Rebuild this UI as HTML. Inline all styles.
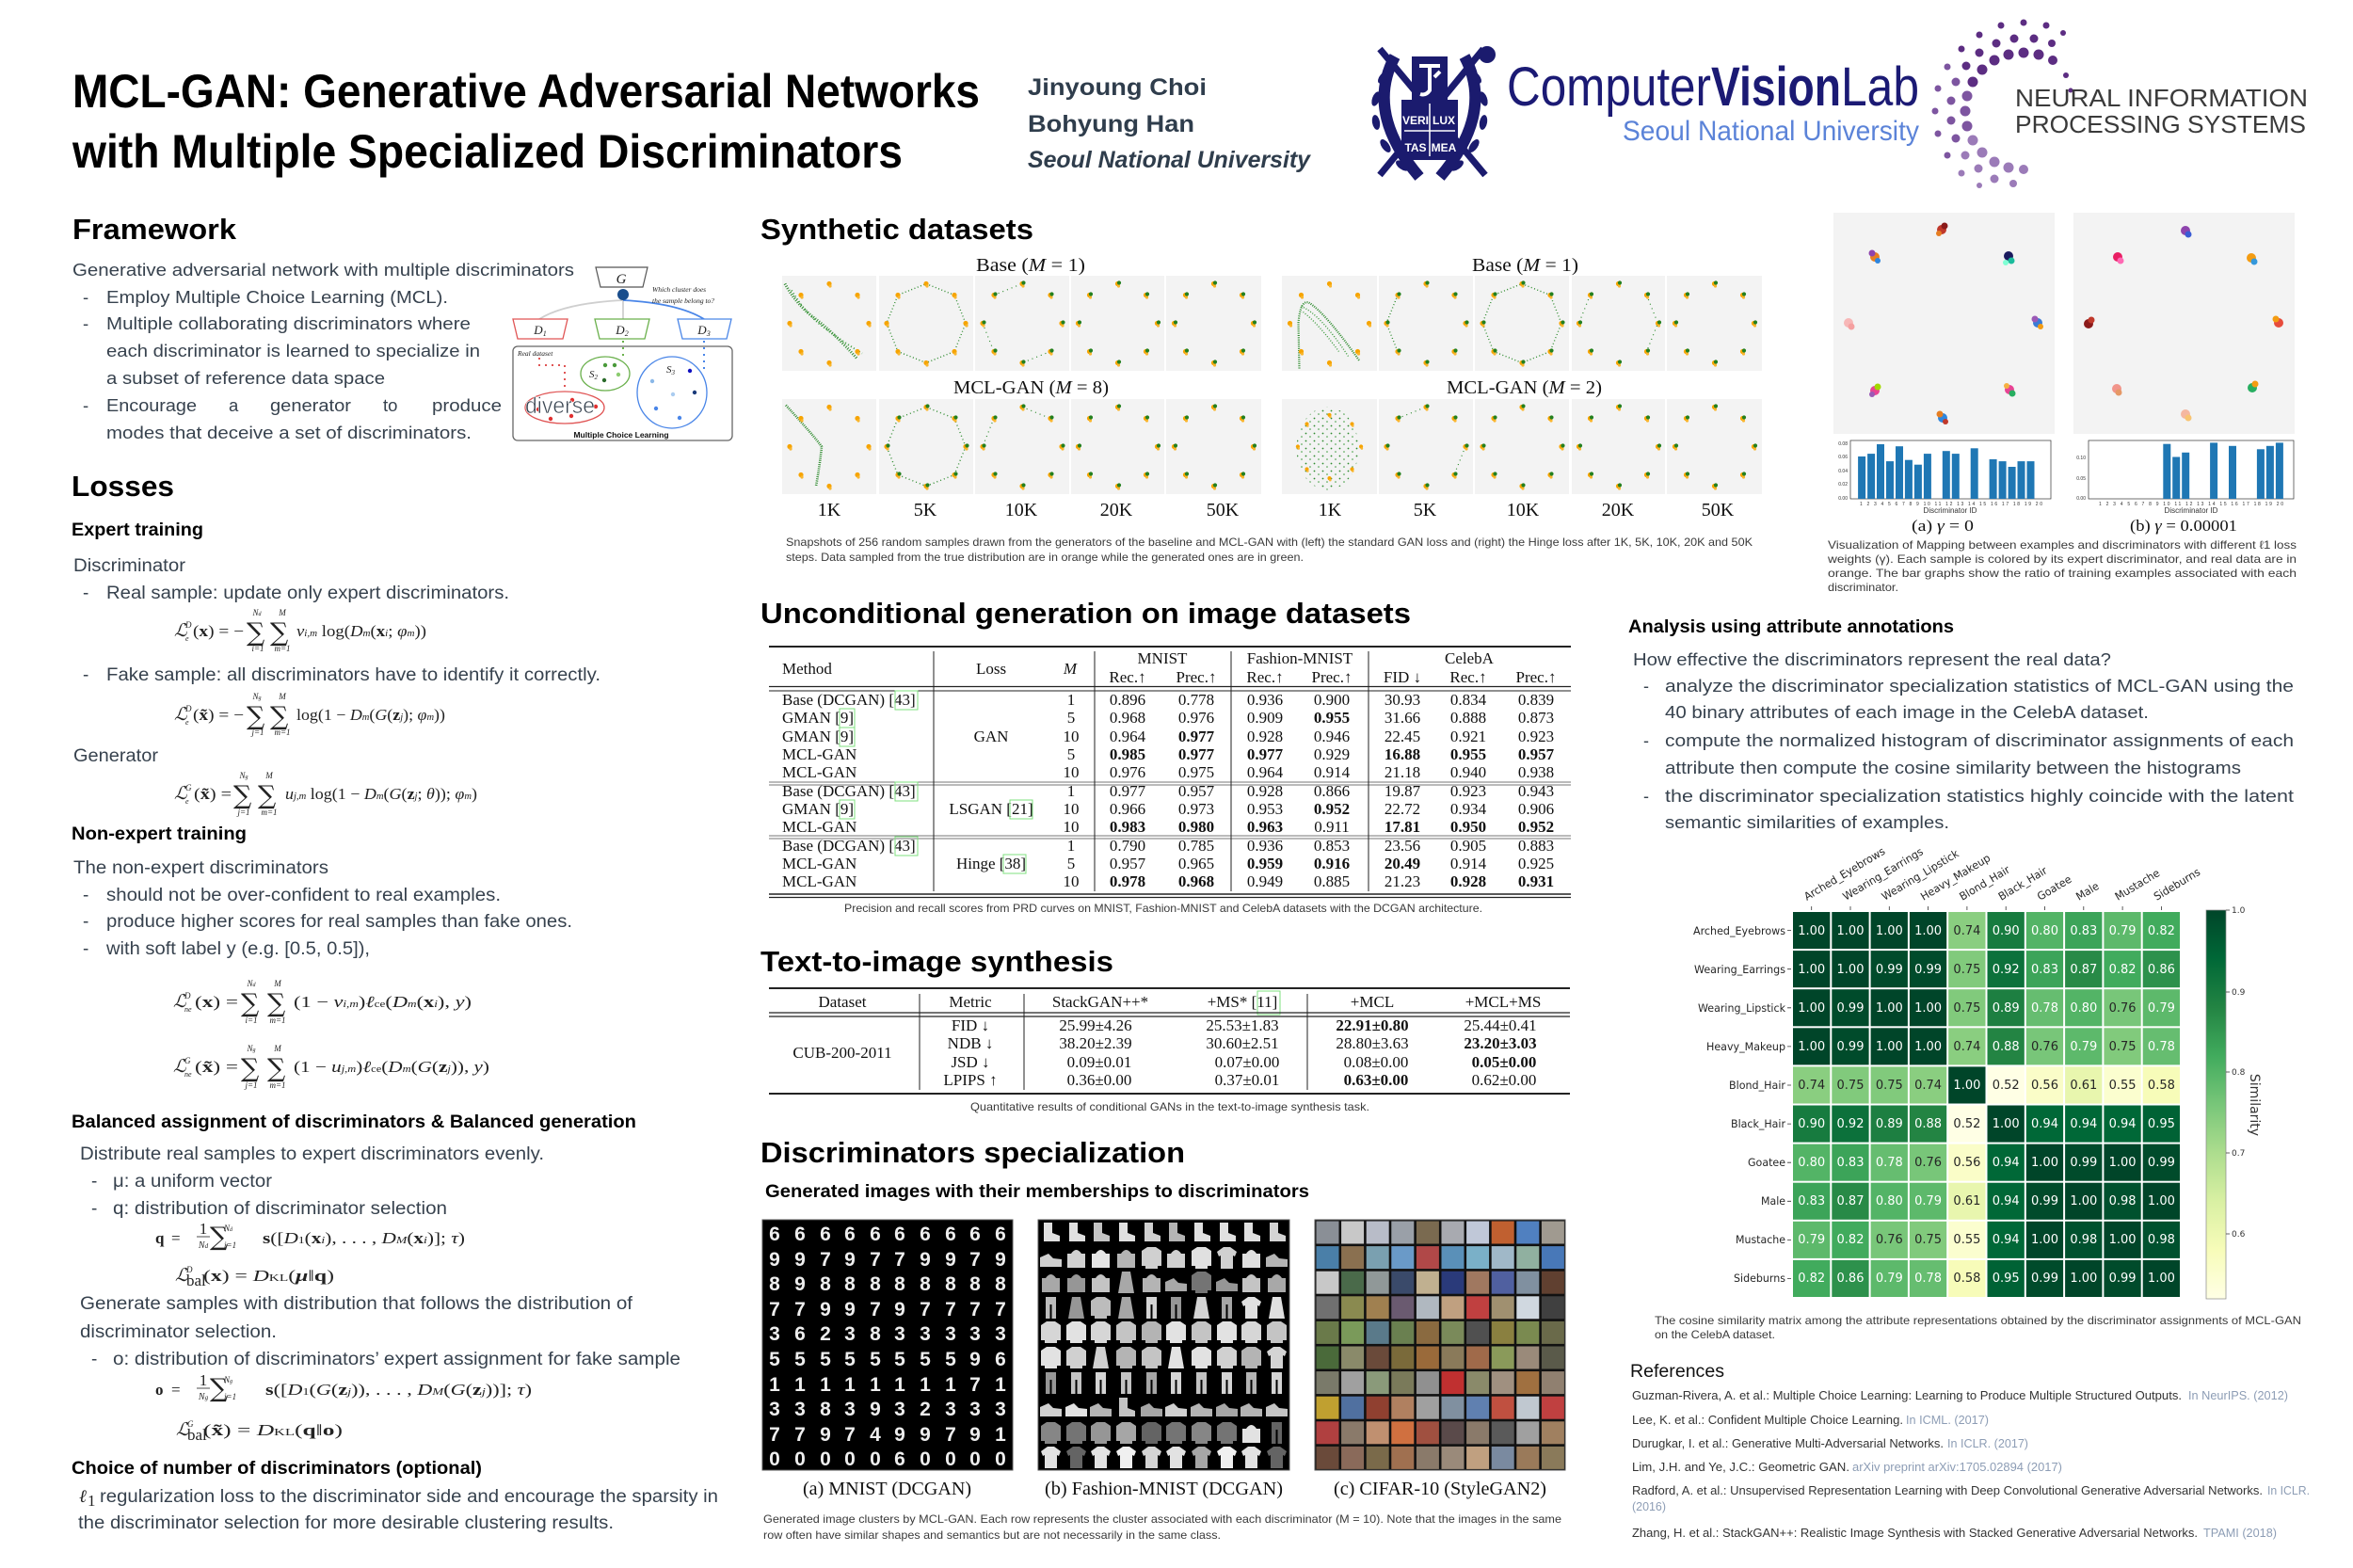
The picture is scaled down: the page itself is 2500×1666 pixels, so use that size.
<!DOCTYPE html>
<html><head><meta charset="utf-8"><style>
html,body{margin:0;padding:0;background:#fff}
svg{display:block;font-family:"Liberation Sans","DejaVu Sans",sans-serif}
.t{fill:#37424e;font-size:19px}
.r{fill:#37424e;font-size:18px}
.h1{font-weight:bold;fill:#000;font-size:31px}
.h2{font-weight:bold;fill:#000;font-size:19px}
.sf{font-family:"Liberation Serif","DejaVu Serif",serif;fill:#111}
.cap{font-size:12px;fill:#3a3a3a}
.f{font-family:"Liberation Serif","DejaVu Serif",serif;fill:#222;font-size:17px}
.fi{font-family:"Liberation Serif","DejaVu Serif",serif;fill:#222;font-style:italic}
.lim{font-family:"Liberation Serif","DejaVu Serif",serif;fill:#222;font-size:9px;font-style:italic;text-anchor:middle}
.sig{font-family:"DejaVu Serif","Liberation Serif",serif;fill:#222;font-size:27px}
.tb{font-family:"Liberation Serif","DejaVu Serif",serif;fill:#111;font-size:17px}
.tc{text-anchor:middle}
.hm{font-family:"DejaVu Sans",sans-serif;font-size:13px;text-anchor:middle}
.w{fill:#fff}.k{fill:#262626}
.ref{font-size:13px;fill:#333}
.ven{font-size:13px;fill:#8d9db5}
</style></head><body>
<svg width="2500" height="1666" viewBox="0 0 2500 1666" xmlns="http://www.w3.org/2000/svg">
<defs>
<g id="oct">
<circle cx="0" cy="-42" r="2.6" fill="#f6a400"/><circle cx="1" cy="-39.5" r="1.6" fill="#f9b62f"/>
<circle cx="30" cy="-30" r="2.6" fill="#f6a400"/><circle cx="31" cy="-27.5" r="1.6" fill="#f9b62f"/>
<circle cx="42" cy="0" r="2.6" fill="#f6a400"/><circle cx="43" cy="2.5" r="1.6" fill="#f9b62f"/>
<circle cx="30" cy="30" r="2.6" fill="#f6a400"/><circle cx="31" cy="32.5" r="1.6" fill="#f9b62f"/>
<circle cx="0" cy="42" r="2.6" fill="#f6a400"/><circle cx="1" cy="44.5" r="1.6" fill="#f9b62f"/>
<circle cx="-30" cy="30" r="2.6" fill="#f6a400"/><circle cx="-29" cy="32.5" r="1.6" fill="#f9b62f"/>
<circle cx="-42" cy="0" r="2.6" fill="#f6a400"/><circle cx="-41" cy="2.5" r="1.6" fill="#f9b62f"/>
<circle cx="-30" cy="-30" r="2.6" fill="#f6a400"/><circle cx="-29" cy="-27.5" r="1.6" fill="#f9b62f"/>
</g>
<g id="gd" fill="#23801f">
<circle cx="1.5" cy="-43" r="2.1"/><circle cx="31.5" cy="-31" r="2.1"/><circle cx="43.5" cy="-1" r="2.1"/><circle cx="31.5" cy="29" r="2.1"/>
<circle cx="1.5" cy="41" r="2.1"/><circle cx="-28.5" cy="29" r="2.1"/><circle cx="-40.5" cy="-1" r="2.1"/><circle cx="-28.5" cy="-31" r="2.1"/>
</g>
<path id="op" d="M0,-42 L30,-30 L42,0 L30,30 L0,42 L-30,30 L-42,0 L-30,-30 Z"/>
<pattern id="gp" width="9" height="8" patternUnits="userSpaceOnUse"><circle cx="2" cy="2" r="0.9" fill="#2e8b2e"/><circle cx="6.5" cy="5.5" r="0.8" fill="#3a9a3a"/></pattern>
<linearGradient id="cb" x1="0" y1="0" x2="0" y2="1">
<stop offset="0" stop-color="#004529"/><stop offset="0.125" stop-color="#006837"/><stop offset="0.25" stop-color="#238443"/><stop offset="0.375" stop-color="#41ab5d"/><stop offset="0.5" stop-color="#78c679"/><stop offset="0.625" stop-color="#addd8e"/><stop offset="0.75" stop-color="#d9f0a3"/><stop offset="0.875" stop-color="#f7fcb9"/><stop offset="1" stop-color="#ffffe5"/>
</linearGradient>
<path id="boot" d="M6,3 h9 v11 l8,3 v6 h-17 z"/>
<path id="bag" d="M4,9 h19 v15 h-19 z M8,9 q5.5,-8 11,0" />
<path id="top" d="M3,6 L9,2 L18,2 L24,6 L24,22 L20,22 L20,25 L7,25 L7,22 L3,22 Z"/>
<path id="trs" d="M8,2 h11 v23 h-4.5 v-15 h-2 v15 h-4.5 z"/>
<path id="snk" d="M2,13 l9,-4 l5,5 l9,1 v8 h-23 z"/>
<path id="tsh" d="M3,7 L10,2 L17,2 L24,7 L22,12 L20,11 L20,25 L7,25 L7,11 L5,12 Z"/>
<path id="drs" d="M9,2 h9 l4,23 h-17 z"/>
</defs>
<rect width="2500" height="1666" fill="#fff"/>

<!-- HEADER -->
<text x="77" y="114" font-size="50" font-weight="bold" fill="#000" textLength="964" lengthAdjust="spacingAndGlyphs">MCL-GAN: Generative Adversarial Networks</text>
<text x="77" y="178" font-size="50" font-weight="bold" fill="#000" textLength="882" lengthAdjust="spacingAndGlyphs">with Multiple Specialized Discriminators</text>
<text x="1092" y="101" font-size="25" font-weight="bold" fill="#2f3d4c" textLength="190" lengthAdjust="spacingAndGlyphs">Jinyoung Choi</text>
<text x="1092" y="140" font-size="25" font-weight="bold" fill="#2f3d4c" textLength="177" lengthAdjust="spacingAndGlyphs">Bohyung Han</text>
<text x="1092" y="178" font-size="25" font-weight="bold" font-style="italic" fill="#2f3d4c" textLength="300" lengthAdjust="spacingAndGlyphs">Seoul National University</text>

<!-- SNU emblem -->
<g fill="#1b1b6e" stroke="#1b1b6e">
<line x1="1466" y1="52" x2="1578" y2="186" stroke-width="7"/>
<line x1="1576" y1="52" x2="1466" y2="186" stroke-width="7"/>
<circle cx="1580" cy="58" r="9" stroke="none"/>
<path d="M1482,60 Q1450,120 1508,188" fill="none" stroke-width="12"/>
<path d="M1556,60 Q1588,120 1530,188" fill="none" stroke-width="12"/>
<g stroke="none">
<ellipse cx="1470" cy="82" rx="8" ry="4" transform="rotate(-50 1470 82)"/><ellipse cx="1462" cy="105" rx="8" ry="4" transform="rotate(-70 1462 105)"/><ellipse cx="1462" cy="130" rx="8" ry="4" transform="rotate(-100 1462 130)"/><ellipse cx="1472" cy="155" rx="8" ry="4" transform="rotate(-125 1472 155)"/><ellipse cx="1490" cy="176" rx="8" ry="4" transform="rotate(-145 1490 176)"/>
<ellipse cx="1568" cy="82" rx="8" ry="4" transform="rotate(50 1568 82)"/><ellipse cx="1576" cy="105" rx="8" ry="4" transform="rotate(70 1576 105)"/><ellipse cx="1576" cy="130" rx="8" ry="4" transform="rotate(100 1576 130)"/><ellipse cx="1566" cy="155" rx="8" ry="4" transform="rotate(125 1566 155)"/><ellipse cx="1548" cy="176" rx="8" ry="4" transform="rotate(145 1548 176)"/>
<rect x="1500" y="60" width="38" height="46"/>
<rect x="1489" y="106" width="60" height="64"/>
</g>
</g>
<path d="M1508,70 h22 M1519,70 v26 q-4,6 -10,4 M1524,82 l6,-6" stroke="#fff" stroke-width="4" fill="none"/>
<line x1="1519" y1="110" x2="1519" y2="166" stroke="#fff" stroke-width="1.5"/>
<line x1="1492" y1="139" x2="1546" y2="139" stroke="#fff" stroke-width="1.5"/>
<g font-size="12" font-weight="bold" fill="#fff" text-anchor="middle">
<text x="1504" y="132">VERI</text><text x="1534" y="132">LUX</text><text x="1504" y="161">TAS</text><text x="1534" y="161">MEA</text>
</g>
<!-- CVL -->
<text x="1601" y="112" font-size="58" fill="#1b1a74" textLength="217" lengthAdjust="spacingAndGlyphs">Computer</text>
<text x="1818" y="112" font-size="58" font-weight="bold" fill="#1b1a74" textLength="138" lengthAdjust="spacingAndGlyphs">Vision</text>
<text x="1956" y="112" font-size="58" fill="#1b1a74" textLength="83" lengthAdjust="spacingAndGlyphs">Lab</text>
<text x="1724" y="149" font-size="30" fill="#5b83d8" textLength="315" lengthAdjust="spacingAndGlyphs">Seoul National University</text>
<!-- NeurIPS -->
<g fill="#5c2d82">
<circle cx="2181" cy="64" r="5"/><circle cx="2166" cy="58" r="5.5"/><circle cx="2150" cy="56" r="5.5"/><circle cx="2134" cy="58" r="5.5"/><circle cx="2119" cy="64" r="5.5"/><circle cx="2106" cy="74" r="5.5"/><circle cx="2096" cy="87" r="5.5"/>
<circle cx="2180" cy="46" r="4"/><circle cx="2161" cy="41" r="4.5"/><circle cx="2140" cy="41" r="4.5"/><circle cx="2121" cy="46" r="4.5"/><circle cx="2103" cy="56" r="4.5"/><circle cx="2089" cy="70" r="4.5"/>
<circle cx="2174" cy="27" r="3.5"/><circle cx="2150" cy="24" r="3.5"/><circle cx="2126" cy="27" r="3.5"/><circle cx="2103" cy="37" r="3.5"/><circle cx="2084" cy="52" r="3.5"/>
<circle cx="2195" cy="80" r="3"/><circle cx="2200" cy="96" r="2.5"/><circle cx="2192" cy="35" r="3"/>
</g>
<g fill="#7d55a0">
<circle cx="2090" cy="102" r="5.5"/><circle cx="2088" cy="118" r="5.5"/><circle cx="2090" cy="134" r="5.5"/><circle cx="2078" cy="87" r="4.5"/><circle cx="2073" cy="107" r="4.5"/><circle cx="2073" cy="128" r="4.5"/><circle cx="2078" cy="147" r="4.5"/>
<circle cx="2069" cy="71" r="3.5"/><circle cx="2059" cy="94" r="3.5"/><circle cx="2056" cy="118" r="3.5"/><circle cx="2059" cy="142" r="3.5"/><circle cx="2069" cy="165" r="3.5"/>
</g>
<g fill="#9b7bb8">
<circle cx="2096" cy="149" r="5.5"/><circle cx="2106" cy="162" r="5.5"/><circle cx="2119" cy="172" r="5.5"/><circle cx="2134" cy="178" r="5.5"/><circle cx="2150" cy="180" r="5"/>
<circle cx="2088" cy="165" r="4.5"/><circle cx="2102" cy="179" r="4.5"/><circle cx="2119" cy="190" r="4.5"/><circle cx="2139" cy="195" r="4"/>
<circle cx="2084" cy="184" r="3.5"/><circle cx="2103" cy="197" r="3"/>
</g>
<text x="2141" y="113" font-size="26" fill="#3a3a3a" textLength="311" lengthAdjust="spacingAndGlyphs">NEURAL INFORMATION</text>
<text x="2141" y="141" font-size="26" fill="#3a3a3a" textLength="309" lengthAdjust="spacingAndGlyphs">PROCESSING SYSTEMS</text>

<!-- LEFT COLUMN: Framework -->
<text x="77" y="254" class="h1" textLength="174" lengthAdjust="spacingAndGlyphs">Framework</text>
<g class="t" style="font-size:18.5px">
<text x="77" y="293" textLength="533" lengthAdjust="spacingAndGlyphs">Generative adversarial network with multiple discriminators</text>
<text x="88" y="322">-</text><text x="113" y="322" textLength="363" lengthAdjust="spacingAndGlyphs">Employ Multiple Choice Learning (MCL).</text>
<text x="88" y="350">-</text><text x="113" y="350" textLength="387" lengthAdjust="spacingAndGlyphs">Multiple collaborating discriminators where</text>
<text x="113" y="379" textLength="397" lengthAdjust="spacingAndGlyphs">each discriminator is learned to specialize in</text>
<text x="113" y="408" textLength="296" lengthAdjust="spacingAndGlyphs">a subset of reference data space</text>
<text x="88" y="437">-</text><text x="113" y="437" textLength="96" lengthAdjust="spacingAndGlyphs">Encourage</text><text x="243" y="437">a</text><text x="287" y="437" textLength="86" lengthAdjust="spacingAndGlyphs">generator</text><text x="407" y="437">to</text><text x="459" y="437" textLength="74" lengthAdjust="spacingAndGlyphs">produce</text>
<text x="113" y="466" textLength="388" lengthAdjust="spacingAndGlyphs">modes that deceive a set of discriminators.</text>
</g>
<!-- diagram -->
<g>
<path d="M662,319 Q600,322 573,339" fill="none" stroke="#cfcfcf" stroke-width="1.8"/>
<line x1="662" y1="319" x2="662" y2="339" stroke="#cfcfcf" stroke-width="1.8"/>
<path d="M662,319 Q720,322 748,339" fill="none" stroke="#4a86e8" stroke-width="1.8"/>
<polygon points="633,284 688,284 683,305 638,305" fill="#fff" stroke="#555" stroke-width="1.2"/>
<text x="660" y="301" class="fi" font-size="15" text-anchor="middle">G</text>
<circle cx="662" cy="313" r="6" fill="#1a4e8c"/>
<text x="693" y="310" class="fi" font-size="7.5" fill="#555">Which cluster does</text>
<text x="693" y="322" class="fi" font-size="7.5" fill="#555">the sample belong to?</text>
<polygon points="545,339 603,339 598,360 550,360" fill="#fff" stroke="#e05555" stroke-width="1.3"/>
<polygon points="632,339 690,339 685,360 637,360" fill="#fff" stroke="#6ab04c" stroke-width="1.3"/>
<polygon points="720,339 777,339 772,360 725,360" fill="#fff" stroke="#4a86e8" stroke-width="1.3"/>
<text x="574" y="355" class="fi" font-size="13" text-anchor="middle">D<tspan font-size="8" dy="2">1</tspan></text>
<text x="661" y="355" class="fi" font-size="13" text-anchor="middle">D<tspan font-size="8" dy="2">2</tspan></text>
<text x="748" y="355" class="fi" font-size="13" text-anchor="middle">D<tspan font-size="8" dy="2">3</tspan></text>
<rect x="545" y="368" width="233" height="100" rx="5" fill="#fff" stroke="#666" stroke-width="1.3"/>
<text x="550" y="378" class="fi" font-size="7.5" fill="#444">Real dataset</text>
<path d="M573,380 L573,388 L600,388 L600,414" fill="none" stroke="#e05555" stroke-width="2" stroke-dasharray="2 5"/>
<line x1="662" y1="362" x2="662" y2="382" stroke="#6ab04c" stroke-width="2" stroke-dasharray="2 5"/>
<line x1="748" y1="362" x2="748" y2="392" stroke="#4a86e8" stroke-width="2" stroke-dasharray="2 5"/>
<ellipse cx="600" cy="433" rx="42" ry="17" fill="none" stroke="#e05555" stroke-width="1.3"/>
<ellipse cx="643" cy="397" rx="26" ry="18" fill="none" stroke="#6ab04c" stroke-width="1.3"/>
<ellipse cx="714" cy="417" rx="37" ry="38" fill="none" stroke="#4a86e8" stroke-width="1.3"/>
<text x="626" y="401" class="fi" font-size="11">S<tspan font-size="7" dy="2">2</tspan></text>
<text x="708" y="396" class="fi" font-size="11">S<tspan font-size="7" dy="2">3</tspan></text>
<g fill="#e03030"><circle cx="572" cy="435" r="2.2"/><circle cx="608" cy="425" r="2.2"/><circle cx="633" cy="432" r="2.2"/><circle cx="585" cy="445" r="2.2"/><circle cx="607" cy="442" r="2.2"/></g>
<g fill="#4a9a3a"><circle cx="643" cy="388" r="2.2"/><circle cx="653" cy="388" r="2.2"/><circle cx="657" cy="398" r="2.2" fill="#8ccc70"/><circle cx="642" cy="404" r="2.2" fill="#2a6a2a"/></g>
<g fill="#4a86e8"><circle cx="733" cy="394" r="2.2" fill="#1010c0"/><circle cx="693" cy="405" r="2.2" fill="#8ab8e8"/><circle cx="738" cy="417" r="2.2" fill="#1a3a7a"/><circle cx="715" cy="419" r="2.2" fill="#aaccf0"/><circle cx="697" cy="434" r="2.2"/><circle cx="722" cy="444" r="2.2"/></g>
<text x="558" y="439" font-size="24" fill="#3a4652" stroke="#fff" stroke-width="0.6" textLength="74" lengthAdjust="spacingAndGlyphs">diverse</text>
<text x="660" y="465" font-size="8.5" font-weight="bold" fill="#111" text-anchor="middle">Multiple Choice Learning</text>
</g>

<!-- Losses -->
<text x="76" y="527" class="h1" textLength="109" lengthAdjust="spacingAndGlyphs">Losses</text>
<text x="76" y="569" class="h2" textLength="140" lengthAdjust="spacingAndGlyphs">Expert training</text>
<g class="t">
<text x="78" y="607" textLength="119" lengthAdjust="spacingAndGlyphs">Discriminator</text>
<text x="88" y="636">-</text><text x="113" y="636" textLength="428" lengthAdjust="spacingAndGlyphs">Real sample: update only expert discriminators.</text>
<text x="88" y="723">-</text><text x="113" y="723" textLength="525" lengthAdjust="spacingAndGlyphs">Fake sample: all discriminators have to identify it correctly.</text>
<text x="78" y="809" textLength="90" lengthAdjust="spacingAndGlyphs">Generator</text>
</g>
<text x="76" y="892" class="h2" textLength="186" lengthAdjust="spacingAndGlyphs">Non-expert training</text>
<g class="t">
<text x="78" y="928" textLength="271" lengthAdjust="spacingAndGlyphs">The non-expert discriminators</text>
<text x="88" y="957">-</text><text x="113" y="957" textLength="419" lengthAdjust="spacingAndGlyphs">should not be over-confident to real examples.</text>
<text x="88" y="985">-</text><text x="113" y="985" textLength="495" lengthAdjust="spacingAndGlyphs">produce higher scores for real samples than fake ones.</text>
<text x="88" y="1014">-</text><text x="113" y="1014" textLength="280" lengthAdjust="spacingAndGlyphs">with soft label y (e.g. [0.5, 0.5]),</text>
</g>

<!-- Formula 1 -->
<text x="185" y="676" class="fi" font-size="19">ℒ</text><text x="197" y="667" class="fi" font-size="9">D</text><text x="197" y="681" class="fi" font-size="8">e</text>
<text x="205" y="676" class="f" textLength="54" lengthAdjust="spacingAndGlyphs">(<tspan font-weight="bold">x</tspan>) = −</text>
<text x="262" y="681" class="sig">∑</text><text x="287" y="681" class="sig">∑</text>
<text x="273" y="654" class="lim">N<tspan font-size="6">d</tspan></text><text x="300" y="654" class="lim">M</text><text x="274" y="692" class="lim">i=1</text><text x="300" y="692" class="lim">m=1</text>
<text x="315" y="676" class="f" textLength="138" lengthAdjust="spacingAndGlyphs"><tspan font-style="italic">v</tspan><tspan font-size="10" font-style="italic">i,m</tspan> log(<tspan font-style="italic">D</tspan><tspan font-size="10" font-style="italic">m</tspan>(<tspan font-weight="bold">x</tspan><tspan font-size="10" font-style="italic">i</tspan>; <tspan font-style="italic">φ</tspan><tspan font-size="10" font-style="italic">m</tspan>))</text>
<!-- Formula 2 -->
<text x="185" y="765" class="fi" font-size="19">ℒ</text><text x="197" y="756" class="fi" font-size="9">D</text><text x="197" y="770" class="fi" font-size="8">e</text>
<text x="205" y="765" class="f" textLength="54" lengthAdjust="spacingAndGlyphs">(<tspan font-weight="bold">x̃</tspan>) = −</text>
<text x="262" y="770" class="sig">∑</text><text x="287" y="770" class="sig">∑</text>
<text x="273" y="743" class="lim">N<tspan font-size="6">g</tspan></text><text x="300" y="743" class="lim">M</text><text x="274" y="781" class="lim">j=1</text><text x="300" y="781" class="lim">m=1</text>
<text x="315" y="765" class="f" textLength="158" lengthAdjust="spacingAndGlyphs">log(1 − <tspan font-style="italic">D</tspan><tspan font-size="10" font-style="italic">m</tspan>(<tspan font-style="italic">G</tspan>(<tspan font-weight="bold">z</tspan><tspan font-size="10" font-style="italic">j</tspan>); <tspan font-style="italic">φ</tspan><tspan font-size="10" font-style="italic">m</tspan>))</text>
<!-- Formula 3 -->
<text x="185" y="849" class="fi" font-size="19">ℒ</text><text x="197" y="840" class="fi" font-size="9">G</text><text x="197" y="854" class="fi" font-size="8">e</text>
<text x="206" y="849" class="f" textLength="40" lengthAdjust="spacingAndGlyphs">(<tspan font-weight="bold">x̃</tspan>) =</text>
<text x="248" y="854" class="sig">∑</text><text x="274" y="854" class="sig">∑</text>
<text x="259" y="827" class="lim">N<tspan font-size="6">g</tspan></text><text x="286" y="827" class="lim">M</text><text x="259" y="866" class="lim">j=1</text><text x="286" y="866" class="lim">m=1</text>
<text x="303" y="849" class="f" textLength="204" lengthAdjust="spacingAndGlyphs"><tspan font-style="italic">u</tspan><tspan font-size="10" font-style="italic">j,m</tspan> log(1 − <tspan font-style="italic">D</tspan><tspan font-size="10" font-style="italic">m</tspan>(<tspan font-style="italic">G</tspan>(<tspan font-weight="bold">z</tspan><tspan font-size="10" font-style="italic">j</tspan>; <tspan font-style="italic">θ</tspan>)); <tspan font-style="italic">φ</tspan><tspan font-size="10" font-style="italic">m</tspan>)</text>
<!-- Formula 4 -->
<text x="184" y="1070" class="fi" font-size="19">ℒ</text><text x="196" y="1061" class="fi" font-size="9">D</text><text x="196" y="1075" class="fi" font-size="8">ne</text>
<text x="207" y="1070" class="f" textLength="46" lengthAdjust="spacingAndGlyphs">(<tspan font-weight="bold">x</tspan>) =</text>
<text x="256" y="1075" class="sig">∑</text><text x="284" y="1075" class="sig">∑</text>
<text x="267" y="1048" class="lim">N<tspan font-size="6">d</tspan></text><text x="295" y="1048" class="lim">M</text><text x="267" y="1087" class="lim">i=1</text><text x="295" y="1087" class="lim">m=1</text>
<text x="312" y="1070" class="f" textLength="189" lengthAdjust="spacingAndGlyphs">(1 − <tspan font-style="italic">v</tspan><tspan font-size="10" font-style="italic">i,m</tspan>)<tspan font-style="italic">ℓ</tspan><tspan font-size="10">ce</tspan>(<tspan font-style="italic">D</tspan><tspan font-size="10" font-style="italic">m</tspan>(<tspan font-weight="bold">x</tspan><tspan font-size="10" font-style="italic">i</tspan>), <tspan font-style="italic">y</tspan>)</text>
<!-- Formula 5 -->
<text x="184" y="1139" class="fi" font-size="19">ℒ</text><text x="196" y="1130" class="fi" font-size="9">G</text><text x="196" y="1144" class="fi" font-size="8">ne</text>
<text x="207" y="1139" class="f" textLength="46" lengthAdjust="spacingAndGlyphs">(<tspan font-weight="bold">x̃</tspan>) =</text>
<text x="256" y="1144" class="sig">∑</text><text x="284" y="1144" class="sig">∑</text>
<text x="267" y="1117" class="lim">N<tspan font-size="6">g</tspan></text><text x="295" y="1117" class="lim">M</text><text x="267" y="1156" class="lim">j=1</text><text x="295" y="1156" class="lim">m=1</text>
<text x="312" y="1139" class="f" textLength="208" lengthAdjust="spacingAndGlyphs">(1 − <tspan font-style="italic">u</tspan><tspan font-size="10" font-style="italic">j,m</tspan>)<tspan font-style="italic">ℓ</tspan><tspan font-size="10">ce</tspan>(<tspan font-style="italic">D</tspan><tspan font-size="10" font-style="italic">m</tspan>(<tspan font-style="italic">G</tspan>(<tspan font-weight="bold">z</tspan><tspan font-size="10" font-style="italic">j</tspan>)), <tspan font-style="italic">y</tspan>)</text>

<text x="76" y="1198" class="h2" textLength="600" lengthAdjust="spacingAndGlyphs">Balanced assignment of discriminators &amp; Balanced generation</text>
<g class="t">
<text x="85" y="1232" textLength="493" lengthAdjust="spacingAndGlyphs">Distribute real samples to expert discriminators evenly.</text>
<text x="97" y="1261">-</text><text x="120" y="1261" textLength="169" lengthAdjust="spacingAndGlyphs">μ: a uniform vector</text>
<text x="97" y="1290">-</text><text x="120" y="1290" textLength="355" lengthAdjust="spacingAndGlyphs">q: distribution of discriminator selection</text>
<text x="85" y="1391" textLength="587" lengthAdjust="spacingAndGlyphs">Generate samples with distribution that follows the distribution of</text>
<text x="85" y="1421" textLength="209" lengthAdjust="spacingAndGlyphs">discriminator selection.</text>
<text x="97" y="1450">-</text><text x="120" y="1450" textLength="603" lengthAdjust="spacingAndGlyphs">o: distribution of discriminators’ expert assignment for fake sample</text>
</g>
<!-- q formula -->
<text x="165" y="1321" class="f" font-weight="bold" font-size="19">q</text><text x="182" y="1321" class="f" font-size="19">=</text>
<text x="216" y="1311" class="f" font-size="10" text-anchor="middle">1</text><line x1="209" y1="1314" x2="223" y2="1314" stroke="#222" stroke-width="0.8"/><text x="216" y="1326" class="fi" font-size="10" text-anchor="middle">N<tspan font-size="7">d</tspan></text>
<text x="223" y="1323" class="sig" font-size="20">∑</text><text x="238" y="1308" class="fi" font-size="9">N<tspan font-size="6">d</tspan></text><text x="238" y="1326" class="fi" font-size="9">i=1</text>
<text x="279" y="1321" class="f" font-size="19" textLength="215" lengthAdjust="spacingAndGlyphs"><tspan font-weight="bold">s</tspan>([<tspan font-style="italic">D</tspan><tspan font-size="11">1</tspan>(<tspan font-weight="bold">x</tspan><tspan font-size="11" font-style="italic">i</tspan>), . . . , <tspan font-style="italic">D</tspan><tspan font-size="11" font-style="italic">M</tspan>(<tspan font-weight="bold">x</tspan><tspan font-size="11" font-style="italic">i</tspan>)]; <tspan font-style="italic">τ</tspan>)</text>
<text x="186" y="1361" class="fi" font-size="19">ℒ</text><text x="198" y="1352" class="fi" font-size="9">D</text><text x="198" y="1366" class="f" font-size="9">bal</text>
<text x="216" y="1361" class="f" font-size="19" textLength="139" lengthAdjust="spacingAndGlyphs">(<tspan font-weight="bold">x</tspan>) = <tspan font-style="italic">D</tspan><tspan font-size="11">KL</tspan>(<tspan font-weight="bold" font-style="italic">μ</tspan>‖<tspan font-weight="bold">q</tspan>)</text>
<!-- o formula -->
<text x="165" y="1482" class="f" font-weight="bold" font-size="19">o</text><text x="182" y="1482" class="f" font-size="19">=</text>
<text x="216" y="1472" class="f" font-size="10" text-anchor="middle">1</text><line x1="209" y1="1475" x2="223" y2="1475" stroke="#222" stroke-width="0.8"/><text x="216" y="1487" class="fi" font-size="10" text-anchor="middle">N<tspan font-size="7">g</tspan></text>
<text x="223" y="1484" class="sig" font-size="20">∑</text><text x="238" y="1469" class="fi" font-size="9">N<tspan font-size="6">g</tspan></text><text x="238" y="1487" class="fi" font-size="9">j=1</text>
<text x="282" y="1482" class="f" font-size="19" textLength="283" lengthAdjust="spacingAndGlyphs"><tspan font-weight="bold">s</tspan>([<tspan font-style="italic">D</tspan><tspan font-size="11">1</tspan>(<tspan font-style="italic">G</tspan>(<tspan font-weight="bold">z</tspan><tspan font-size="11" font-style="italic">j</tspan>)), . . . , <tspan font-style="italic">D</tspan><tspan font-size="11" font-style="italic">M</tspan>(<tspan font-style="italic">G</tspan>(<tspan font-weight="bold">z</tspan><tspan font-size="11" font-style="italic">j</tspan>))]; <tspan font-style="italic">τ</tspan>)</text>
<text x="187" y="1525" class="fi" font-size="19">ℒ</text><text x="199" y="1516" class="fi" font-size="9">G</text><text x="199" y="1530" class="f" font-size="9">bal</text>
<text x="216" y="1525" class="f" font-size="19" textLength="148" lengthAdjust="spacingAndGlyphs">(<tspan font-weight="bold">x̃</tspan>) = <tspan font-style="italic">D</tspan><tspan font-size="11">KL</tspan>(<tspan font-weight="bold">q</tspan>‖<tspan font-weight="bold">o</tspan>)</text>

<text x="76" y="1566" class="h2" textLength="436" lengthAdjust="spacingAndGlyphs">Choice of number of discriminators (optional)</text>
<text x="84" y="1596" class="fi" font-size="19" fill="#37424e">ℓ</text><text x="93" y="1600" class="f" font-size="11" fill="#37424e">1</text>
<text x="106" y="1596" class="t" textLength="657" lengthAdjust="spacingAndGlyphs">regularization loss to the discriminator side and encourage the sparsity in</text>
<text x="83" y="1624" class="t" textLength="569" lengthAdjust="spacingAndGlyphs">the discriminator selection for more desirable clustering results.</text>

<!-- MIDDLE: Synthetic datasets -->
<text x="808" y="254" class="h1" textLength="290" lengthAdjust="spacingAndGlyphs">Synthetic datasets</text>
<g class="sf" font-size="20">
<text x="1037" y="288" textLength="116" lengthAdjust="spacingAndGlyphs">Base (<tspan font-style="italic">M</tspan> = 1)</text>
<text x="1564" y="288" textLength="113" lengthAdjust="spacingAndGlyphs">Base (<tspan font-style="italic">M</tspan> = 1)</text>
<text x="1013" y="418" textLength="165" lengthAdjust="spacingAndGlyphs">MCL-GAN (<tspan font-style="italic">M</tspan> = 8)</text>
<text x="1537" y="418" textLength="165" lengthAdjust="spacingAndGlyphs">MCL-GAN (<tspan font-style="italic">M</tspan> = 2)</text>
</g>
<g fill="#f3f3f3">
<rect x="831" y="293" width="100" height="101"/><rect x="934" y="293" width="100" height="101"/><rect x="1036" y="293" width="100" height="101"/><rect x="1138" y="293" width="99" height="101"/><rect x="1239" y="293" width="101" height="101"/>
<rect x="1362" y="293" width="101" height="101"/><rect x="1465" y="293" width="100" height="101"/><rect x="1567" y="293" width="100" height="101"/><rect x="1670" y="293" width="99" height="101"/><rect x="1771" y="293" width="101" height="101"/>
<rect x="831" y="424" width="100" height="101"/><rect x="934" y="424" width="100" height="101"/><rect x="1036" y="424" width="100" height="101"/><rect x="1138" y="424" width="99" height="101"/><rect x="1239" y="424" width="101" height="101"/>
<rect x="1362" y="424" width="101" height="101"/><rect x="1465" y="424" width="100" height="101"/><rect x="1567" y="424" width="100" height="101"/><rect x="1670" y="424" width="99" height="101"/><rect x="1771" y="424" width="101" height="101"/>
</g>
<!-- left row1 -->
<g transform="translate(881,343.5)"><path d="M-47,-42 Q-35,-20 -15,-5 T30,38" fill="none" stroke="#2e8b2e" stroke-width="3" stroke-dasharray="1 1.6"/><path d="M-40,-35 Q-25,-10 -5,5 T35,32" fill="none" stroke="#3a9a3a" stroke-width="2" stroke-dasharray="1 2.5"/><use href="#oct"/></g>
<g transform="translate(984,343.5)"><use href="#op" fill="none" stroke="#2e8b2e" stroke-width="1.4" stroke-dasharray="1 2.5"/><use href="#oct"/></g>
<g transform="translate(1086,343.5)"><path d="M-30,-30 L0,-42 M30,30 L0,42 M-42,0 L-30,30" fill="none" stroke="#2e8b2e" stroke-width="1.2" stroke-dasharray="1 4"/><use href="#oct"/><use href="#gd"/></g>
<g transform="translate(1187.5,343.5)"><use href="#oct"/><use href="#gd"/></g>
<g transform="translate(1289.5,343.5)"><use href="#oct"/><use href="#gd"/></g>
<!-- left row2 -->
<g transform="translate(881,474.5)"><path d="M-46,-44 Q-15,-10 -8,0 Q-10,20 -14,42" fill="none" stroke="#2e8b2e" stroke-width="2.6" stroke-dasharray="1 1.2"/><use href="#oct"/></g>
<g transform="translate(984,474.5)"><use href="#op" fill="none" stroke="#2e8b2e" stroke-width="1.4" stroke-dasharray="1 3"/><use href="#oct"/><use href="#gd"/></g>
<g transform="translate(1086,474.5)"><path d="M-30,-30 L-42,0 M0,-42 L30,-30" fill="none" stroke="#2e8b2e" stroke-width="1.2" stroke-dasharray="1 4"/><use href="#oct"/><use href="#gd"/></g>
<g transform="translate(1187.5,474.5)"><use href="#oct"/><use href="#gd"/></g>
<g transform="translate(1289.5,474.5)"><use href="#oct"/><use href="#gd"/></g>
<!-- right row1 -->
<g transform="translate(1412.5,343.5)"><path d="M-32,48 L-33,0 Q-31,-25 -22,-22 Q-5,-12 32,40" fill="none" stroke="#2e8b2e" stroke-width="2.2" stroke-dasharray="1 1.3"/><path d="M-30,-18 Q-10,-10 20,35 M-28,-12 Q-12,0 10,30" fill="none" stroke="#3a9a3a" stroke-width="1.4" stroke-dasharray="1 1.8"/><use href="#oct"/></g>
<g transform="translate(1515,343.5)"><path d="M-30,-30 L-42,0 L-30,30" fill="none" stroke="#2e8b2e" stroke-width="1.4" stroke-dasharray="1 2.5"/><use href="#oct"/><use href="#gd"/></g>
<g transform="translate(1617,343.5)"><use href="#op" fill="none" stroke="#2e8b2e" stroke-width="1.4" stroke-dasharray="1 2.5"/><use href="#oct"/><use href="#gd"/></g>
<g transform="translate(1719.5,343.5)"><path d="M30,-30 L42,0 L30,30 M-30,-30 L-42,0" fill="none" stroke="#2e8b2e" stroke-width="1.2" stroke-dasharray="1 4"/><use href="#oct"/><use href="#gd"/></g>
<g transform="translate(1821.5,343.5)"><use href="#oct"/><use href="#gd"/></g>
<!-- right row2 -->
<g transform="translate(1412.5,474.5)"><ellipse cx="-2" cy="2" rx="33" ry="44" fill="url(#gp)"/><use href="#oct" transform="scale(0.8)"/></g>
<g transform="translate(1515,474.5)"><path d="M-30,-30 L0,-42 M42,0 L30,30" fill="none" stroke="#2e8b2e" stroke-width="1.2" stroke-dasharray="1 4"/><use href="#oct"/><use href="#gd"/></g>
<g transform="translate(1617,474.5)"><use href="#oct"/><use href="#gd"/></g>
<g transform="translate(1719.5,474.5)"><use href="#oct"/><use href="#gd"/></g>
<g transform="translate(1821.5,474.5)"><use href="#oct"/><use href="#gd"/></g>
<g class="sf" font-size="20" text-anchor="middle">
<text x="881" y="548">1K</text><text x="983" y="548">5K</text><text x="1085" y="548">10K</text><text x="1186" y="548">20K</text><text x="1299" y="548">50K</text>
<text x="1413" y="548">1K</text><text x="1514" y="548">5K</text><text x="1618" y="548">10K</text><text x="1719" y="548">20K</text><text x="1825" y="548">50K</text>
</g>
<text x="835" y="580" class="cap" textLength="1027" lengthAdjust="spacingAndGlyphs">Snapshots of 256 random samples drawn from the generators of the baseline and MCL-GAN with (left) the standard GAN loss and (right) the Hinge loss after 1K, 5K, 10K, 20K and 50K</text>
<text x="835" y="596" class="cap" textLength="550" lengthAdjust="spacingAndGlyphs">steps. Data sampled from the true distribution are in orange while the generated ones are in green.</text>

<!-- Unconditional generation table -->
<text x="808" y="662" class="h1" textLength="691" lengthAdjust="spacingAndGlyphs">Unconditional generation on image datasets</text>
<g stroke="#222">
<line x1="817" y1="687" x2="1669" y2="687" stroke-width="2"/>
<line x1="817" y1="729.5" x2="1669" y2="729.5" stroke-width="1.2"/><line x1="817" y1="734" x2="1669" y2="734" stroke-width="1"/>
<line x1="817" y1="831" x2="1669" y2="831" stroke-width="1" stroke="#777"/><line x1="817" y1="834" x2="1669" y2="834" stroke-width="1" stroke="#777"/>
<line x1="817" y1="888" x2="1669" y2="888" stroke-width="1" stroke="#777"/><line x1="817" y1="891" x2="1669" y2="891" stroke-width="1" stroke="#777"/>
<line x1="817" y1="950" x2="1669" y2="950" stroke-width="1.5"/><line x1="817" y1="953.5" x2="1669" y2="953.5" stroke-width="1.2"/>
<line x1="992" y1="692" x2="992" y2="947" stroke-width="1"/><line x1="1163" y1="692" x2="1163" y2="947" stroke-width="1"/><line x1="1308" y1="692" x2="1308" y2="947" stroke-width="1"/><line x1="1454" y1="692" x2="1454" y2="947" stroke-width="1"/>
</g>
<g class="tb">
<text x="831" y="716">Method</text><text x="1053" y="716" class="tc">Loss</text><text x="1137" y="716" class="tc" font-style="italic">M</text>
<text x="1235" y="705" class="tc">MNIST</text><text x="1381" y="705" class="tc">Fashion-MNIST</text><text x="1561" y="705" class="tc">CelebA</text>
<text x="1198" y="725" class="tc">Rec.↑</text><text x="1271" y="725" class="tc">Prec.↑</text><text x="1344" y="725" class="tc">Rec.↑</text><text x="1415" y="725" class="tc">Prec.↑</text><text x="1490" y="725" class="tc">FID ↓</text><text x="1560" y="725" class="tc">Rec.↑</text><text x="1632" y="725" class="tc">Prec.↑</text>
<text x="1053" y="788" class="tc">GAN</text><text x="1053" y="865" class="tc">LSGAN [21]</text><text x="1053" y="923" class="tc">Hinge [38]</text>
<text x="831" y="749">Base (DCGAN) [43]</text><text x="831" y="768">GMAN [9]</text><text x="831" y="788">GMAN [9]</text><text x="831" y="807">MCL-GAN</text><text x="831" y="826">MCL-GAN</text>
<text x="831" y="846">Base (DCGAN) [43]</text><text x="831" y="865">GMAN [9]</text><text x="831" y="884">MCL-GAN</text>
<text x="831" y="904">Base (DCGAN) [43]</text><text x="831" y="923">MCL-GAN</text><text x="831" y="942">MCL-GAN</text>
<g class="tc">
<text x="1138" y="749">1</text><text x="1138" y="768">5</text><text x="1138" y="788">10</text><text x="1138" y="807">5</text><text x="1138" y="826">10</text><text x="1138" y="846">1</text><text x="1138" y="865">10</text><text x="1138" y="884">10</text><text x="1138" y="904">1</text><text x="1138" y="923">5</text><text x="1138" y="942">10</text>
<text x="1198" y="749">0.896</text><text x="1271" y="749">0.778</text><text x="1344" y="749">0.936</text><text x="1415" y="749">0.900</text><text x="1490" y="749">30.93</text><text x="1560" y="749">0.834</text><text x="1632" y="749">0.839</text>
<text x="1198" y="768">0.968</text><text x="1271" y="768">0.976</text><text x="1344" y="768">0.909</text><text x="1415" y="768" font-weight="bold">0.955</text><text x="1490" y="768">31.66</text><text x="1560" y="768">0.888</text><text x="1632" y="768">0.873</text>
<text x="1198" y="788">0.964</text><text x="1271" y="788" font-weight="bold">0.977</text><text x="1344" y="788">0.928</text><text x="1415" y="788">0.946</text><text x="1490" y="788">22.45</text><text x="1560" y="788">0.921</text><text x="1632" y="788">0.923</text>
<g font-weight="bold"><text x="1198" y="807">0.985</text><text x="1271" y="807">0.977</text><text x="1344" y="807">0.977</text><text x="1415" y="807" font-weight="normal">0.929</text><text x="1490" y="807">16.88</text><text x="1560" y="807">0.955</text><text x="1632" y="807">0.957</text></g>
<text x="1198" y="826">0.976</text><text x="1271" y="826">0.975</text><text x="1344" y="826">0.964</text><text x="1415" y="826">0.914</text><text x="1490" y="826">21.18</text><text x="1560" y="826">0.940</text><text x="1632" y="826">0.938</text>
<text x="1198" y="846">0.977</text><text x="1271" y="846">0.957</text><text x="1344" y="846">0.928</text><text x="1415" y="846">0.866</text><text x="1490" y="846">19.87</text><text x="1560" y="846">0.923</text><text x="1632" y="846">0.943</text>
<text x="1198" y="865">0.966</text><text x="1271" y="865">0.973</text><text x="1344" y="865">0.953</text><text x="1415" y="865" font-weight="bold">0.952</text><text x="1490" y="865">22.72</text><text x="1560" y="865">0.934</text><text x="1632" y="865">0.906</text>
<g font-weight="bold"><text x="1198" y="884">0.983</text><text x="1271" y="884">0.980</text><text x="1344" y="884">0.963</text><text x="1415" y="884" font-weight="normal">0.911</text><text x="1490" y="884">17.81</text><text x="1560" y="884">0.950</text><text x="1632" y="884">0.952</text></g>
<text x="1198" y="904">0.790</text><text x="1271" y="904">0.785</text><text x="1344" y="904">0.936</text><text x="1415" y="904">0.853</text><text x="1490" y="904">23.56</text><text x="1560" y="904">0.905</text><text x="1632" y="904">0.883</text>
<text x="1198" y="923">0.957</text><text x="1271" y="923">0.965</text><text x="1344" y="923" font-weight="bold">0.959</text><text x="1415" y="923" font-weight="bold">0.916</text><text x="1490" y="923" font-weight="bold">20.49</text><text x="1560" y="923">0.914</text><text x="1632" y="923">0.925</text>
<text x="1198" y="942" font-weight="bold">0.978</text><text x="1271" y="942" font-weight="bold">0.968</text><text x="1344" y="942">0.949</text><text x="1415" y="942">0.885</text><text x="1490" y="942">21.23</text><text x="1560" y="942" font-weight="bold">0.928</text><text x="1632" y="942" font-weight="bold">0.931</text>
</g>
</g>
<g fill="none" stroke="#7fe07f" stroke-width="1">
<rect x="951" y="734" width="24" height="20"/><rect x="951" y="831" width="24" height="20"/><rect x="951" y="889" width="24" height="20"/>
<rect x="892" y="753" width="16" height="20"/><rect x="892" y="773" width="16" height="20"/><rect x="892" y="850" width="16" height="20"/>
<rect x="1073" y="850" width="24" height="20"/><rect x="1066" y="908" width="24" height="20"/>
<rect x="1336" y="1053" width="24" height="25"/>
</g>
<text x="897" y="969" class="cap" textLength="678" lengthAdjust="spacingAndGlyphs">Precision and recall scores from PRD curves on MNIST, Fashion-MNIST and CelebA datasets with the DCGAN architecture.</text>

<!-- Text-to-image -->
<text x="808" y="1032" class="h1" textLength="375" lengthAdjust="spacingAndGlyphs">Text-to-image synthesis</text>
<g stroke="#222">
<line x1="817" y1="1050" x2="1668" y2="1050" stroke-width="2"/>
<line x1="817" y1="1076" x2="1668" y2="1076" stroke-width="1.2"/><line x1="817" y1="1080" x2="1668" y2="1080" stroke-width="1.2"/>
<line x1="817" y1="1162" x2="1668" y2="1162" stroke-width="2"/>
<line x1="977" y1="1056" x2="977" y2="1158" stroke-width="1"/><line x1="1088" y1="1056" x2="1088" y2="1158" stroke-width="1"/><line x1="1389" y1="1056" x2="1389" y2="1158" stroke-width="1"/>
</g>
<g class="tb tc">
<text x="895" y="1070">Dataset</text><text x="1031" y="1070">Metric</text><text x="1169" y="1070">StackGAN++*</text><text x="1320" y="1070">+MS* [11]</text><text x="1458" y="1070">+MCL</text><text x="1597" y="1070">+MCL+MS</text>
<text x="895" y="1124">CUB-200-2011</text>
<text x="1031" y="1095">FID ↓</text><text x="1031" y="1114">NDB ↓</text><text x="1031" y="1134">JSD ↓</text><text x="1031" y="1153">LPIPS ↑</text>
<text x="1164" y="1095">25.99±4.26</text><text x="1164" y="1114">38.20±2.39</text><text x="1168" y="1134">0.09±0.01</text><text x="1168" y="1153">0.36±0.00</text>
<text x="1320" y="1095">25.53±1.83</text><text x="1320" y="1114">30.60±2.51</text><text x="1325" y="1134">0.07±0.00</text><text x="1325" y="1153">0.37±0.01</text>
<text x="1458" y="1095" font-weight="bold">22.91±0.80</text><text x="1458" y="1114">28.80±3.63</text><text x="1462" y="1134">0.08±0.00</text><text x="1462" y="1153" font-weight="bold">0.63±0.00</text>
<text x="1594" y="1095">25.44±0.41</text><text x="1594" y="1114" font-weight="bold">23.20±3.03</text><text x="1598" y="1134" font-weight="bold">0.05±0.00</text><text x="1598" y="1153">0.62±0.00</text>
</g>
<text x="1031" y="1180" class="cap" textLength="424" lengthAdjust="spacingAndGlyphs">Quantitative results of conditional GANs in the text-to-image synthesis task.</text>

<!-- Discriminators specialization -->
<text x="808" y="1235" class="h1" textLength="451" lengthAdjust="spacingAndGlyphs">Discriminators specialization</text>
<text x="813" y="1272" class="h2" textLength="578" lengthAdjust="spacingAndGlyphs">Generated images with their memberships to discriminators</text>
<!-- MNIST -->
<rect x="810" y="1296" width="266" height="266" fill="#000" stroke="#555" stroke-width="1"/>
<g font-size="21" font-weight="bold" fill="#eee" text-anchor="middle">
<text x="823 850 877 903 930 956 983 1010 1036 1063" y="1318">6666666666</text>
<text x="823 850 877 903 930 956 983 1010 1036 1063" y="1345">9979779979</text>
<text x="823 850 877 903 930 956 983 1010 1036 1063" y="1371">8988888888</text>
<text x="823 850 877 903 930 956 983 1010 1036 1063" y="1398">7799797777</text>
<text x="823 850 877 903 930 956 983 1010 1036 1063" y="1424">3623833333</text>
<text x="823 850 877 903 930 956 983 1010 1036 1063" y="1451">5555555596</text>
<text x="823 850 877 903 930 956 983 1010 1036 1063" y="1478">1111111171</text>
<text x="823 850 877 903 930 956 983 1010 1036 1063" y="1504">3383932333</text>
<text x="823 850 877 903 930 956 983 1010 1036 1063" y="1531">7797499791</text>
<text x="823 850 877 903 930 956 983 1010 1036 1063" y="1557">0000060000</text>
</g>
<!-- Fashion -->
<rect x="1103" y="1296" width="267" height="266" fill="#000" stroke="#555" stroke-width="1"/>
<g>
<g fill="#e0e0e0"><use href="#boot" x="1103" y="1296"/><use href="#boot" x="1130" y="1296"/><use href="#boot" x="1156" y="1296" fill="#c4c4c4"/><use href="#boot" x="1183" y="1296"/><use href="#boot" x="1210" y="1296" fill="#d0d0d0"/><use href="#boot" x="1236" y="1296" fill="#b4b4b4"/><use href="#boot" x="1263" y="1296"/><use href="#boot" x="1290" y="1296"/><use href="#boot" x="1316" y="1296"/><use href="#boot" x="1343" y="1296" fill="#d4d4d4"/></g>
<g fill="#d0d0d0"><use href="#snk" x="1103" y="1323"/><use href="#bag" x="1130" y="1323"/><use href="#bag" x="1156" y="1323" fill="#e6e6e6"/><use href="#bag" x="1183" y="1323" fill="#b4b4b4"/><use href="#top" x="1210" y="1323"/><use href="#bag" x="1236" y="1323"/><use href="#top" x="1263" y="1323" fill="#e0e0e0"/><use href="#tsh" x="1290" y="1323"/><use href="#bag" x="1316" y="1323" fill="#e0e0e0"/><use href="#snk" x="1343" y="1323" fill="#b4b4b4"/></g>
<g fill="#a8a8a8"><use href="#bag" x="1103" y="1349"/><use href="#bag" x="1130" y="1349" fill="#969696"/><use href="#bag" x="1156" y="1349" fill="#c4c4c4"/><use href="#drs" x="1183" y="1349"/><use href="#bag" x="1210" y="1349" fill="#b4b4b4"/><use href="#snk" x="1236" y="1349"/><use href="#top" x="1263" y="1349" fill="#747474"/><use href="#snk" x="1290" y="1349" fill="#969696"/><use href="#bag" x="1316" y="1349" fill="#c4c4c4"/><use href="#bag" x="1343" y="1349"/></g>
<g fill="#bcbcbc"><use href="#trs" x="1103" y="1376"/><use href="#drs" x="1130" y="1376" fill="#969696"/><use href="#top" x="1156" y="1376"/><use href="#drs" x="1183" y="1376" fill="#a6a6a6"/><use href="#trs" x="1210" y="1376" fill="#d4d4d4"/><use href="#trs" x="1236" y="1376" fill="#969696"/><use href="#drs" x="1263" y="1376" fill="#d4d4d4"/><use href="#trs" x="1290" y="1376" fill="#a6a6a6"/><use href="#tsh" x="1316" y="1376" fill="#e0e0e0"/><use href="#drs" x="1343" y="1376" fill="#e0e0e0"/></g>
<g fill="#d6d6d6"><use href="#top" x="1103" y="1402"/><use href="#top" x="1130" y="1402" fill="#e2e2e2"/><use href="#top" x="1156" y="1402"/><use href="#top" x="1183" y="1402" fill="#c4c4c4"/><use href="#top" x="1210" y="1402" fill="#b4b4b4"/><use href="#top" x="1236" y="1402" fill="#e2e2e2"/><use href="#top" x="1263" y="1402" fill="#c4c4c4"/><use href="#top" x="1290" y="1402" fill="#e2e2e2"/><use href="#top" x="1316" y="1402"/><use href="#top" x="1343" y="1402" fill="#c4c4c4"/></g>
<g fill="#d0d0d0"><use href="#top" x="1103" y="1429" fill="#e2e2e2"/><use href="#top" x="1130" y="1429"/><use href="#drs" x="1156" y="1429"/><use href="#top" x="1183" y="1429" fill="#b4b4b4"/><use href="#top" x="1210" y="1429" fill="#c4c4c4"/><use href="#drs" x="1236" y="1429" fill="#e2e2e2"/><use href="#top" x="1263" y="1429" fill="#e2e2e2"/><use href="#top" x="1290" y="1429"/><use href="#top" x="1316" y="1429" fill="#b4b4b4"/><use href="#tsh" x="1343" y="1429" fill="#d4d4d4"/></g>
<g fill="#c2c2c2"><use href="#trs" x="1103" y="1456" fill="#969696"/><use href="#trs" x="1130" y="1456"/><use href="#trs" x="1156" y="1456" fill="#d4d4d4"/><use href="#trs" x="1183" y="1456"/><use href="#trs" x="1210" y="1456" fill="#a6a6a6"/><use href="#trs" x="1236" y="1456" fill="#d4d4d4"/><use href="#trs" x="1263" y="1456"/><use href="#trs" x="1290" y="1456" fill="#d4d4d4"/><use href="#trs" x="1316" y="1456" fill="#b4b4b4"/><use href="#trs" x="1343" y="1456" fill="#d4d4d4"/></g>
<g fill="#d0d0d0"><use href="#snk" x="1103" y="1482"/><use href="#snk" x="1130" y="1482" fill="#e2e2e2"/><use href="#snk" x="1156" y="1482" fill="#b4b4b4"/><use href="#boot" x="1183" y="1482" fill="#c4c4c4"/><use href="#snk" x="1210" y="1482" fill="#a6a6a6"/><use href="#snk" x="1236" y="1482"/><use href="#snk" x="1263" y="1482" fill="#b4b4b4"/><use href="#snk" x="1290" y="1482" fill="#a6a6a6"/><use href="#snk" x="1316" y="1482" fill="#b4b4b4"/><use href="#snk" x="1343" y="1482" fill="#c4c4c4"/></g>
<g fill="#868686"><use href="#top" x="1103" y="1509"/><use href="#top" x="1130" y="1509" fill="#747474"/><use href="#top" x="1156" y="1509" fill="#969696"/><use href="#top" x="1183" y="1509" fill="#a6a6a6"/><use href="#top" x="1210" y="1509" fill="#646464"/><use href="#top" x="1236" y="1509" fill="#747474"/><use href="#top" x="1263" y="1509"/><use href="#top" x="1290" y="1509" fill="#747474"/><use href="#bag" x="1316" y="1509" fill="#e2e2e2"/><use href="#trs" x="1343" y="1509" fill="#646464"/></g>
<g fill="#e2e2e2"><use href="#tsh" x="1103" y="1535"/><use href="#tsh" x="1130" y="1535" fill="#646464"/><use href="#tsh" x="1156" y="1535"/><use href="#tsh" x="1183" y="1535" fill="#f0f0f0"/><use href="#tsh" x="1210" y="1535" fill="#d4d4d4"/><use href="#tsh" x="1236" y="1535"/><use href="#tsh" x="1263" y="1535" fill="#a6a6a6"/><use href="#tsh" x="1290" y="1535" fill="#f0f0f0"/><use href="#tsh" x="1316" y="1535"/><use href="#tsh" x="1343" y="1535" fill="#646464"/></g>
</g>
<!-- CIFAR -->
<rect x="1397" y="1296" width="266" height="266" fill="#111" stroke="#555" stroke-width="1"/>
<g>
<g><rect x="1398.5" y="1297.5" width="24" height="24" fill="#8a8f96"/><rect x="1425.1" y="1297.5" width="24" height="24" fill="#c8c8c8"/><rect x="1451.7" y="1297.5" width="24" height="24" fill="#b8bcc8"/><rect x="1478.3" y="1297.5" width="24" height="24" fill="#9aa0a8"/><rect x="1504.9" y="1297.5" width="24" height="24" fill="#7a6a50"/><rect x="1531.5" y="1297.5" width="24" height="24" fill="#a8aab0"/><rect x="1558.1" y="1297.5" width="24" height="24" fill="#c0c8d8"/><rect x="1584.7" y="1297.5" width="24" height="24" fill="#c06030"/><rect x="1611.3" y="1297.5" width="24" height="24" fill="#5080c0"/><rect x="1637.9" y="1297.5" width="24" height="24" fill="#a09a90"/></g>
<g><rect x="1398.5" y="1324.1" width="24" height="24" fill="#4a7fa8"/><rect x="1425.1" y="1324.1" width="24" height="24" fill="#8a7050"/><rect x="1451.7" y="1324.1" width="24" height="24" fill="#7aa0b0"/><rect x="1478.3" y="1324.1" width="24" height="24" fill="#6a9ac8"/><rect x="1504.9" y="1324.1" width="24" height="24" fill="#b04848"/><rect x="1531.5" y="1324.1" width="24" height="24" fill="#5a90b8"/><rect x="1558.1" y="1324.1" width="24" height="24" fill="#7ab0c8"/><rect x="1584.7" y="1324.1" width="24" height="24" fill="#a0b8c8"/><rect x="1611.3" y="1324.1" width="24" height="24" fill="#90b0a0"/><rect x="1637.9" y="1324.1" width="24" height="24" fill="#4878b8"/></g>
<g><rect x="1398.5" y="1350.7" width="24" height="24" fill="#c8c8c8"/><rect x="1425.1" y="1350.7" width="24" height="24" fill="#4a6a4a"/><rect x="1451.7" y="1350.7" width="24" height="24" fill="#909898"/><rect x="1478.3" y="1350.7" width="24" height="24" fill="#3a4a6a"/><rect x="1504.9" y="1350.7" width="24" height="24" fill="#c0b090"/><rect x="1531.5" y="1350.7" width="24" height="24" fill="#2a3a7a"/><rect x="1558.1" y="1350.7" width="24" height="24" fill="#a07860"/><rect x="1584.7" y="1350.7" width="24" height="24" fill="#5060a0"/><rect x="1611.3" y="1350.7" width="24" height="24" fill="#8090a0"/><rect x="1637.9" y="1350.7" width="24" height="24" fill="#604030"/></g>
<g><rect x="1398.5" y="1377.3" width="24" height="24" fill="#707070"/><rect x="1425.1" y="1377.3" width="24" height="24" fill="#8a8a50"/><rect x="1451.7" y="1377.3" width="24" height="24" fill="#a08050"/><rect x="1478.3" y="1377.3" width="24" height="24" fill="#6a5a70"/><rect x="1504.9" y="1377.3" width="24" height="24" fill="#b0b8c0"/><rect x="1531.5" y="1377.3" width="24" height="24" fill="#c0a080"/><rect x="1558.1" y="1377.3" width="24" height="24" fill="#c04040"/><rect x="1584.7" y="1377.3" width="24" height="24" fill="#a09070"/><rect x="1611.3" y="1377.3" width="24" height="24" fill="#d0d8e0"/><rect x="1637.9" y="1377.3" width="24" height="24" fill="#404040"/></g>
<g><rect x="1398.5" y="1403.9" width="24" height="24" fill="#6a7a4a"/><rect x="1425.1" y="1403.9" width="24" height="24" fill="#7a9a5a"/><rect x="1451.7" y="1403.9" width="24" height="24" fill="#5a7a8a"/><rect x="1478.3" y="1403.9" width="24" height="24" fill="#6a8050"/><rect x="1504.9" y="1403.9" width="24" height="24" fill="#8a6a40"/><rect x="1531.5" y="1403.9" width="24" height="24" fill="#7a8a5a"/><rect x="1558.1" y="1403.9" width="24" height="24" fill="#505050"/><rect x="1584.7" y="1403.9" width="24" height="24" fill="#8a8040"/><rect x="1611.3" y="1403.9" width="24" height="24" fill="#7a8a50"/><rect x="1637.9" y="1403.9" width="24" height="24" fill="#6a6a4a"/></g>
<g><rect x="1398.5" y="1430.5" width="24" height="24" fill="#4a6a3a"/><rect x="1425.1" y="1430.5" width="24" height="24" fill="#8a8a6a"/><rect x="1451.7" y="1430.5" width="24" height="24" fill="#6a4a3a"/><rect x="1478.3" y="1430.5" width="24" height="24" fill="#7a6a3a"/><rect x="1504.9" y="1430.5" width="24" height="24" fill="#9a6a3a"/><rect x="1531.5" y="1430.5" width="24" height="24" fill="#8a7a5a"/><rect x="1558.1" y="1430.5" width="24" height="24" fill="#a06a4a"/><rect x="1584.7" y="1430.5" width="24" height="24" fill="#8a9a5a"/><rect x="1611.3" y="1430.5" width="24" height="24" fill="#9a8a7a"/><rect x="1637.9" y="1430.5" width="24" height="24" fill="#5a5a4a"/></g>
<g><rect x="1398.5" y="1457.1" width="24" height="24" fill="#7a7a6a"/><rect x="1425.1" y="1457.1" width="24" height="24" fill="#a0a0a0"/><rect x="1451.7" y="1457.1" width="24" height="24" fill="#8a9a7a"/><rect x="1478.3" y="1457.1" width="24" height="24" fill="#7a7a5a"/><rect x="1504.9" y="1457.1" width="24" height="24" fill="#909090"/><rect x="1531.5" y="1457.1" width="24" height="24" fill="#c03030"/><rect x="1558.1" y="1457.1" width="24" height="24" fill="#8a8a6a"/><rect x="1584.7" y="1457.1" width="24" height="24" fill="#a09080"/><rect x="1611.3" y="1457.1" width="24" height="24" fill="#a07040"/><rect x="1637.9" y="1457.1" width="24" height="24" fill="#908070"/></g>
<g><rect x="1398.5" y="1483.7" width="24" height="24" fill="#c0a030"/><rect x="1425.1" y="1483.7" width="24" height="24" fill="#5070a0"/><rect x="1451.7" y="1483.7" width="24" height="24" fill="#904030"/><rect x="1478.3" y="1483.7" width="24" height="24" fill="#b08060"/><rect x="1504.9" y="1483.7" width="24" height="24" fill="#a0a0a0"/><rect x="1531.5" y="1483.7" width="24" height="24" fill="#8090a0"/><rect x="1558.1" y="1483.7" width="24" height="24" fill="#6080b0"/><rect x="1584.7" y="1483.7" width="24" height="24" fill="#c05040"/><rect x="1611.3" y="1483.7" width="24" height="24" fill="#c0c8d0"/><rect x="1637.9" y="1483.7" width="24" height="24" fill="#c04040"/></g>
<g><rect x="1398.5" y="1510.3" width="24" height="24" fill="#b04040"/><rect x="1425.1" y="1510.3" width="24" height="24" fill="#8a7a6a"/><rect x="1451.7" y="1510.3" width="24" height="24" fill="#c09070"/><rect x="1478.3" y="1510.3" width="24" height="24" fill="#d07040"/><rect x="1504.9" y="1510.3" width="24" height="24" fill="#a05040"/><rect x="1531.5" y="1510.3" width="24" height="24" fill="#5a4a4a"/><rect x="1558.1" y="1510.3" width="24" height="24" fill="#8a7a6a"/><rect x="1584.7" y="1510.3" width="24" height="24" fill="#5a5a5a"/><rect x="1611.3" y="1510.3" width="24" height="24" fill="#a0a0a0"/><rect x="1637.9" y="1510.3" width="24" height="24" fill="#a08060"/></g>
<g><rect x="1398.5" y="1536.9" width="24" height="24" fill="#6a4a3a"/><rect x="1425.1" y="1536.9" width="24" height="24" fill="#8a6a5a"/><rect x="1451.7" y="1536.9" width="24" height="24" fill="#7a6a4a"/><rect x="1478.3" y="1536.9" width="24" height="24" fill="#a07050"/><rect x="1504.9" y="1536.9" width="24" height="24" fill="#8a7a6a"/><rect x="1531.5" y="1536.9" width="24" height="24" fill="#9a8a7a"/><rect x="1558.1" y="1536.9" width="24" height="24" fill="#c0a080"/><rect x="1584.7" y="1536.9" width="24" height="24" fill="#7a8aa0"/><rect x="1611.3" y="1536.9" width="24" height="24" fill="#9a7a5a"/><rect x="1637.9" y="1536.9" width="24" height="24" fill="#8a7a5a"/></g>
</g>
<g class="sf" font-size="20">
<text x="853" y="1588" textLength="179" lengthAdjust="spacingAndGlyphs">(a) MNIST (DCGAN)</text>
<text x="1110" y="1588" textLength="253" lengthAdjust="spacingAndGlyphs">(b) Fashion-MNIST (DCGAN)</text>
<text x="1417" y="1588" textLength="226" lengthAdjust="spacingAndGlyphs">(c) CIFAR-10 (StyleGAN2)</text>
</g>
<text x="811" y="1618" class="cap" textLength="848" lengthAdjust="spacingAndGlyphs">Generated image clusters by MCL-GAN. Each row represents the cluster associated with each discriminator (M = 10). Note that the images in the same</text>
<text x="811" y="1635" class="cap" textLength="486" lengthAdjust="spacingAndGlyphs">row often have similar shapes and semantics but are not necessarily in the same class.</text>

<!-- RIGHT: gamma figure -->
<rect x="1948" y="226" width="235" height="235" fill="#f3f3f3"/>
<rect x="2203" y="226" width="235" height="235" fill="#f3f3f3"/>
<g>
<circle cx="2063" cy="244" r="5" fill="#c0392b"/><circle cx="2066" cy="240" r="3.5" fill="#8b1a1a"/><circle cx="2060" cy="248" r="3" fill="#e67e22"/>
<circle cx="2134" cy="272" r="5" fill="#1a1a5e"/><circle cx="2137" cy="277" r="3.5" fill="#1abc9c"/><circle cx="2131" cy="279" r="3" fill="#7fffd4"/>
<circle cx="2165" cy="343" r="5" fill="#3a7bd5"/><circle cx="2162" cy="339" r="3.5" fill="#9b59b6"/><circle cx="2168" cy="347" r="3" fill="#f39c12"/>
<circle cx="2135" cy="414" r="5" fill="#e84393"/><circle cx="2138" cy="418" r="3.5" fill="#27ae60"/><circle cx="2132" cy="410" r="3" fill="#f5b041"/>
<circle cx="2064" cy="444" r="5" fill="#2e86de"/><circle cx="2061" cy="440" r="3.5" fill="#e67e22"/><circle cx="2067" cy="448" r="3" fill="#c0392b"/>
<circle cx="1992" cy="415" r="5" fill="#e84393"/><circle cx="1995" cy="411" r="3.5" fill="#a3d900"/><circle cx="1989" cy="419" r="3" fill="#9b59b6"/>
<circle cx="1964" cy="343" r="5" fill="#f7b7b7"/><circle cx="1967" cy="347" r="3.5" fill="#f5a0a0"/>
<circle cx="1992" cy="273" r="5" fill="#e67e22"/><circle cx="1989" cy="269" r="3.5" fill="#8e44ad"/><circle cx="1995" cy="277" r="3" fill="#2e86de"/>
<circle cx="2322" cy="245" r="5" fill="#8e44ad"/><circle cx="2325" cy="249" r="3.5" fill="#3a5bd5"/>
<circle cx="2392" cy="274" r="5" fill="#f39c12"/><circle cx="2395" cy="278" r="3.5" fill="#3498db"/>
<circle cx="2421" cy="343" r="5" fill="#e74c3c"/><circle cx="2418" cy="339" r="3.5" fill="#f39c12"/>
<circle cx="2393" cy="412" r="5" fill="#27ae60"/><circle cx="2396" cy="408" r="3.5" fill="#f39c12"/>
<circle cx="2322" cy="440" r="5" fill="#f5b7a0"/><circle cx="2325" cy="444" r="3.5" fill="#f8c471"/>
<circle cx="2249" cy="413" r="5" fill="#f1948a"/><circle cx="2251" cy="417" r="3.5" fill="#e59866"/>
<circle cx="2219" cy="344" r="5" fill="#8b1a1a"/><circle cx="2222" cy="340" r="3.5" fill="#c0392b"/>
<circle cx="2250" cy="273" r="5" fill="#e91e63"/><circle cx="2253" cy="277" r="3.5" fill="#ff69b4"/>
</g>
<!-- bar charts -->
<rect x="1966" y="468" width="213" height="62" fill="#fff" stroke="#333" stroke-width="0.7"/>
<g fill="#1f77b4">
<rect x="1974.1" y="485" width="8" height="45"/><rect x="1984.1" y="482.1" width="8" height="47.9"/><rect x="1994" y="472" width="8" height="58"/><rect x="2004" y="490.1" width="8" height="39.9"/><rect x="2014" y="474.2" width="8" height="55.8"/><rect x="2023.9" y="488.7" width="8" height="41.3"/><rect x="2033.9" y="493.7" width="8" height="36.3"/><rect x="2043.9" y="482.1" width="8" height="47.9"/>
<rect x="2063.8" y="479.2" width="8" height="50.8"/><rect x="2073.8" y="482.1" width="8" height="47.9"/><rect x="2093.7" y="476.3" width="8" height="53.7"/><rect x="2113.6" y="488" width="8" height="42"/><rect x="2123.6" y="490.1" width="8" height="39.9"/><rect x="2133.6" y="496" width="8" height="34"/><rect x="2143.5" y="490.1" width="8" height="39.9"/><rect x="2153.5" y="490.1" width="8" height="39.9"/>
</g>
<rect x="2219" y="468" width="218" height="62" fill="#fff" stroke="#333" stroke-width="0.7"/>
<g fill="#1f77b4">
<rect x="2298.3" y="471.7" width="8" height="58.3"/><rect x="2308.2" y="485.5" width="8" height="44.5"/><rect x="2318.2" y="480.8" width="8" height="49.2"/><rect x="2348.1" y="470.4" width="8" height="59.6"/><rect x="2368" y="473.8" width="8" height="56.2"/><rect x="2397.9" y="477.3" width="8" height="52.7"/><rect x="2407.9" y="473.8" width="8" height="56.2"/><rect x="2417.9" y="470.4" width="8" height="59.6"/>
</g>
<g font-size="5" fill="#333" text-anchor="end">
<text x="1963" y="531">0.00</text><text x="1963" y="516">0.02</text><text x="1963" y="502">0.04</text><text x="1963" y="487">0.06</text><text x="1963" y="473">0.08</text>
<text x="2216" y="531">0.00</text><text x="2216" y="510">0.05</text><text x="2216" y="488">0.10</text>
</g>
<g font-size="5" fill="#333">
<text x="1976" y="537" textLength="194" lengthAdjust="spacing">1 2 3 4 5 6 7 8 9 10 11 12 13 14 15 16 17 18 19 20</text>
<text x="2230" y="537" textLength="196" lengthAdjust="spacing">1 2 3 4 5 6 7 8 9 10 11 12 13 14 15 16 17 18 19 20</text>
</g>
<text x="2072" y="545" font-size="8" fill="#333" text-anchor="middle">Discriminator ID</text>
<text x="2328" y="545" font-size="8" fill="#333" text-anchor="middle">Discriminator ID</text>
<text x="2031" y="564" class="sf" font-size="17" textLength="66" lengthAdjust="spacingAndGlyphs">(a) <tspan font-style="italic">γ</tspan> = 0</text>
<text x="2263" y="564" class="sf" font-size="17" textLength="114" lengthAdjust="spacingAndGlyphs">(b) <tspan font-style="italic">γ</tspan> = 0.00001</text>
<text x="1942" y="583" class="cap" textLength="498" lengthAdjust="spacingAndGlyphs">Visualization of Mapping between examples and discriminators with different ℓ1 loss</text>
<text x="1942" y="598" class="cap" textLength="498" lengthAdjust="spacingAndGlyphs">weights (γ). Each sample is colored by its expert discriminator, and real data are in</text>
<text x="1942" y="613" class="cap" textLength="498" lengthAdjust="spacingAndGlyphs">orange. The bar graphs show the ratio of training examples associated with each</text>
<text x="1942" y="628" class="cap" textLength="75" lengthAdjust="spacingAndGlyphs">discriminator.</text>

<!-- Analysis -->
<text x="1730" y="672" class="h2" textLength="346" lengthAdjust="spacingAndGlyphs">Analysis using attribute annotations</text>
<g class="r">
<text x="1735" y="707" textLength="508" lengthAdjust="spacingAndGlyphs">How effective the discriminators represent the real data?</text>
<text x="1746" y="735">-</text><text x="1769" y="735" textLength="668" lengthAdjust="spacingAndGlyphs">analyze the discriminator specialization statistics of MCL-GAN using the</text>
<text x="1769" y="763" textLength="514" lengthAdjust="spacingAndGlyphs">40 binary attributes of each image in the CelebA dataset.</text>
<text x="1746" y="793">-</text><text x="1769" y="793" textLength="668" lengthAdjust="spacingAndGlyphs">compute the normalized histogram of discriminator assignments of each</text>
<text x="1769" y="822" textLength="612" lengthAdjust="spacingAndGlyphs">attribute then compute the cosine similarity between the histograms</text>
<text x="1746" y="852">-</text><text x="1769" y="852" textLength="668" lengthAdjust="spacingAndGlyphs">the discriminator specialization statistics highly coincide with the latent</text>
<text x="1769" y="880" textLength="302" lengthAdjust="spacingAndGlyphs">semantic similarities of examples.</text>
</g>

<!-- Heatmap -->
<g font-family="DejaVu Sans, sans-serif" font-size="11.5" fill="#262626">
<text x="1919.7" y="957" transform="rotate(-31 1919.7 957)" textLength="98" lengthAdjust="spacingAndGlyphs">Arched_Eyebrows</text>
<text x="1961" y="957" transform="rotate(-31 1961 957)" textLength="97" lengthAdjust="spacingAndGlyphs">Wearing_Earrings</text>
<text x="2002.3" y="957" transform="rotate(-31 2002.3 957)" textLength="93" lengthAdjust="spacingAndGlyphs">Wearing_Lipstick</text>
<text x="2043.6" y="957" transform="rotate(-31 2043.6 957)" textLength="84" lengthAdjust="spacingAndGlyphs">Heavy_Makeup</text>
<text x="2084.9" y="957" transform="rotate(-31 2084.9 957)" textLength="60" lengthAdjust="spacingAndGlyphs">Blond_Hair</text>
<text x="2126.2" y="957" transform="rotate(-31 2126.2 957)" textLength="58" lengthAdjust="spacingAndGlyphs">Black_Hair</text>
<text x="2167.5" y="957" transform="rotate(-31 2167.5 957)" textLength="40" lengthAdjust="spacingAndGlyphs">Goatee</text>
<text x="2208.8" y="957" transform="rotate(-31 2208.8 957)" textLength="26" lengthAdjust="spacingAndGlyphs">Male</text>
<text x="2250.1" y="957" transform="rotate(-31 2250.1 957)" textLength="53" lengthAdjust="spacingAndGlyphs">Mustache</text>
<text x="2291.4" y="957" transform="rotate(-31 2291.4 957)" textLength="55" lengthAdjust="spacingAndGlyphs">Sideburns</text>
<g text-anchor="end">
<text x="1897" y="993" textLength="98" lengthAdjust="spacingAndGlyphs">Arched_Eyebrows</text>
<text x="1897" y="1034" textLength="97" lengthAdjust="spacingAndGlyphs">Wearing_Earrings</text>
<text x="1897" y="1075" textLength="93" lengthAdjust="spacingAndGlyphs">Wearing_Lipstick</text>
<text x="1897" y="1116" textLength="84" lengthAdjust="spacingAndGlyphs">Heavy_Makeup</text>
<text x="1897" y="1157" textLength="60" lengthAdjust="spacingAndGlyphs">Blond_Hair</text>
<text x="1897" y="1198" textLength="58" lengthAdjust="spacingAndGlyphs">Black_Hair</text>
<text x="1897" y="1239" textLength="40" lengthAdjust="spacingAndGlyphs">Goatee</text>
<text x="1897" y="1280" textLength="26" lengthAdjust="spacingAndGlyphs">Male</text>
<text x="1897" y="1321" textLength="53" lengthAdjust="spacingAndGlyphs">Mustache</text>
<text x="1897" y="1362" textLength="55" lengthAdjust="spacingAndGlyphs">Sideburns</text>
</g>
</g>
<g stroke="#333" stroke-width="0.8">
<path d="M1924.7,963v4M1966,963v4M2007.3,963v4M2048.6,963v4M2089.9,963v4M2131.2,963v4M2172.5,963v4M2213.8,963v4M2255.1,963v4M2296.4,963v4"/>
<path d="M1899,988.6h4M1899,1029.7h4M1899,1070.8h4M1899,1111.9h4M1899,1153h4M1899,1194.1h4M1899,1235.2h4M1899,1276.3h4M1899,1317.4h4M1899,1358.5h4"/>
</g>
<!-- heatmap cells -->
<g>
<rect x="1905" y="969" width="39.3" height="39.1" fill="#004529"/><rect x="1946.3" y="969" width="39.3" height="39.1" fill="#004529"/><rect x="1987.6" y="969" width="39.3" height="39.1" fill="#004529"/><rect x="2028.9" y="969" width="39.3" height="39.1" fill="#004529"/><rect x="2070.2" y="969" width="39.3" height="39.1" fill="#8ace80"/><rect x="2111.5" y="969" width="39.3" height="39.1" fill="#177b3f"/><rect x="2152.8" y="969" width="39.3" height="39.1" fill="#53b466"/><rect x="2194.1" y="969" width="39.3" height="39.1" fill="#3ca459"/><rect x="2235.4" y="969" width="39.3" height="39.1" fill="#5db96b"/><rect x="2276.7" y="969" width="39.3" height="39.1" fill="#41ab5d"/>
<rect x="1905" y="1010.1" width="39.3" height="39.1" fill="#004529"/><rect x="1946.3" y="1010.1" width="39.3" height="39.1" fill="#004529"/><rect x="1987.6" y="1010.1" width="39.3" height="39.1" fill="#004b2b"/><rect x="2028.9" y="1010.1" width="39.3" height="39.1" fill="#004b2b"/><rect x="2070.2" y="1010.1" width="39.3" height="39.1" fill="#81ca7c"/><rect x="2111.5" y="1010.1" width="39.3" height="39.1" fill="#0c713b"/><rect x="2152.8" y="1010.1" width="39.3" height="39.1" fill="#3ca459"/><rect x="2194.1" y="1010.1" width="39.3" height="39.1" fill="#288a47"/><rect x="2235.4" y="1010.1" width="39.3" height="39.1" fill="#41ab5d"/><rect x="2276.7" y="1010.1" width="39.3" height="39.1" fill="#2d914c"/>
<rect x="1905" y="1051.2" width="39.3" height="39.1" fill="#004529"/><rect x="1946.3" y="1051.2" width="39.3" height="39.1" fill="#004b2b"/><rect x="1987.6" y="1051.2" width="39.3" height="39.1" fill="#004529"/><rect x="2028.9" y="1051.2" width="39.3" height="39.1" fill="#004529"/><rect x="2070.2" y="1051.2" width="39.3" height="39.1" fill="#81ca7c"/><rect x="2111.5" y="1051.2" width="39.3" height="39.1" fill="#1d7f41"/><rect x="2152.8" y="1051.2" width="39.3" height="39.1" fill="#66bd70"/><rect x="2194.1" y="1051.2" width="39.3" height="39.1" fill="#53b466"/><rect x="2235.4" y="1051.2" width="39.3" height="39.1" fill="#78c679"/><rect x="2276.7" y="1051.2" width="39.3" height="39.1" fill="#5db96b"/>
<rect x="1905" y="1092.3" width="39.3" height="39.1" fill="#004529"/><rect x="1946.3" y="1092.3" width="39.3" height="39.1" fill="#004b2b"/><rect x="1987.6" y="1092.3" width="39.3" height="39.1" fill="#004529"/><rect x="2028.9" y="1092.3" width="39.3" height="39.1" fill="#004529"/><rect x="2070.2" y="1092.3" width="39.3" height="39.1" fill="#8ace80"/><rect x="2111.5" y="1092.3" width="39.3" height="39.1" fill="#238443"/><rect x="2152.8" y="1092.3" width="39.3" height="39.1" fill="#78c679"/><rect x="2194.1" y="1092.3" width="39.3" height="39.1" fill="#5db96b"/><rect x="2235.4" y="1092.3" width="39.3" height="39.1" fill="#81ca7c"/><rect x="2276.7" y="1092.3" width="39.3" height="39.1" fill="#66bd70"/>
<rect x="1905" y="1133.4" width="39.3" height="39.1" fill="#8ace80"/><rect x="1946.3" y="1133.4" width="39.3" height="39.1" fill="#81ca7c"/><rect x="1987.6" y="1133.4" width="39.3" height="39.1" fill="#81ca7c"/><rect x="2028.9" y="1133.4" width="39.3" height="39.1" fill="#8ace80"/><rect x="2070.2" y="1133.4" width="39.3" height="39.1" fill="#004529"/><rect x="2111.5" y="1133.4" width="39.3" height="39.1" fill="#ffffe5"/><rect x="2152.8" y="1133.4" width="39.3" height="39.1" fill="#fafdc8"/><rect x="2194.1" y="1133.4" width="39.3" height="39.1" fill="#e8f6ae"/><rect x="2235.4" y="1133.4" width="39.3" height="39.1" fill="#fbfecf"/><rect x="2276.7" y="1133.4" width="39.3" height="39.1" fill="#f7fcb9"/>
<rect x="1905" y="1174.5" width="39.3" height="39.1" fill="#177b3f"/><rect x="1946.3" y="1174.5" width="39.3" height="39.1" fill="#0c713b"/><rect x="1987.6" y="1174.5" width="39.3" height="39.1" fill="#1d7f41"/><rect x="2028.9" y="1174.5" width="39.3" height="39.1" fill="#238443"/><rect x="2070.2" y="1174.5" width="39.3" height="39.1" fill="#ffffe5"/><rect x="2111.5" y="1174.5" width="39.3" height="39.1" fill="#004529"/><rect x="2152.8" y="1174.5" width="39.3" height="39.1" fill="#006837"/><rect x="2194.1" y="1174.5" width="39.3" height="39.1" fill="#006837"/><rect x="2235.4" y="1174.5" width="39.3" height="39.1" fill="#006837"/><rect x="2276.7" y="1174.5" width="39.3" height="39.1" fill="#006235"/>
<rect x="1905" y="1215.6" width="39.3" height="39.1" fill="#53b466"/><rect x="1946.3" y="1215.6" width="39.3" height="39.1" fill="#3ca459"/><rect x="1987.6" y="1215.6" width="39.3" height="39.1" fill="#66bd70"/><rect x="2028.9" y="1215.6" width="39.3" height="39.1" fill="#78c679"/><rect x="2070.2" y="1215.6" width="39.3" height="39.1" fill="#fafdc8"/><rect x="2111.5" y="1215.6" width="39.3" height="39.1" fill="#006837"/><rect x="2152.8" y="1215.6" width="39.3" height="39.1" fill="#004529"/><rect x="2194.1" y="1215.6" width="39.3" height="39.1" fill="#004b2b"/><rect x="2235.4" y="1215.6" width="39.3" height="39.1" fill="#004529"/><rect x="2276.7" y="1215.6" width="39.3" height="39.1" fill="#004b2b"/>
<rect x="1905" y="1256.7" width="39.3" height="39.1" fill="#3ca459"/><rect x="1946.3" y="1256.7" width="39.3" height="39.1" fill="#288a47"/><rect x="1987.6" y="1256.7" width="39.3" height="39.1" fill="#53b466"/><rect x="2028.9" y="1256.7" width="39.3" height="39.1" fill="#5db96b"/><rect x="2070.2" y="1256.7" width="39.3" height="39.1" fill="#e8f6ae"/><rect x="2111.5" y="1256.7" width="39.3" height="39.1" fill="#006837"/><rect x="2152.8" y="1256.7" width="39.3" height="39.1" fill="#004b2b"/><rect x="2194.1" y="1256.7" width="39.3" height="39.1" fill="#004529"/><rect x="2235.4" y="1256.7" width="39.3" height="39.1" fill="#00512e"/><rect x="2276.7" y="1256.7" width="39.3" height="39.1" fill="#004529"/>
<rect x="1905" y="1297.8" width="39.3" height="39.1" fill="#5db96b"/><rect x="1946.3" y="1297.8" width="39.3" height="39.1" fill="#41ab5d"/><rect x="1987.6" y="1297.8" width="39.3" height="39.1" fill="#78c679"/><rect x="2028.9" y="1297.8" width="39.3" height="39.1" fill="#81ca7c"/><rect x="2070.2" y="1297.8" width="39.3" height="39.1" fill="#fbfecf"/><rect x="2111.5" y="1297.8" width="39.3" height="39.1" fill="#006837"/><rect x="2152.8" y="1297.8" width="39.3" height="39.1" fill="#004529"/><rect x="2194.1" y="1297.8" width="39.3" height="39.1" fill="#00512e"/><rect x="2235.4" y="1297.8" width="39.3" height="39.1" fill="#004529"/><rect x="2276.7" y="1297.8" width="39.3" height="39.1" fill="#00512e"/>
<rect x="1905" y="1338.9" width="39.3" height="39.1" fill="#41ab5d"/><rect x="1946.3" y="1338.9" width="39.3" height="39.1" fill="#2d914c"/><rect x="1987.6" y="1338.9" width="39.3" height="39.1" fill="#5db96b"/><rect x="2028.9" y="1338.9" width="39.3" height="39.1" fill="#66bd70"/><rect x="2070.2" y="1338.9" width="39.3" height="39.1" fill="#f7fcb9"/><rect x="2111.5" y="1338.9" width="39.3" height="39.1" fill="#006235"/><rect x="2152.8" y="1338.9" width="39.3" height="39.1" fill="#004b2b"/><rect x="2194.1" y="1338.9" width="39.3" height="39.1" fill="#004529"/><rect x="2235.4" y="1338.9" width="39.3" height="39.1" fill="#004b2b"/><rect x="2276.7" y="1338.9" width="39.3" height="39.1" fill="#004529"/>
</g>
<g class="hm">
<g class="w"><text x="1924.7" y="993">1.00</text><text x="1966" y="993">1.00</text><text x="2007.3" y="993">1.00</text><text x="2048.6" y="993">1.00</text><text x="2089.9" y="993" class="k">0.74</text><text x="2131.2" y="993">0.90</text><text x="2172.5" y="993">0.80</text><text x="2213.8" y="993">0.83</text><text x="2255.1" y="993">0.79</text><text x="2296.4" y="993">0.82</text></g>
<g class="w"><text x="1924.7" y="1034">1.00</text><text x="1966" y="1034">1.00</text><text x="2007.3" y="1034">0.99</text><text x="2048.6" y="1034">0.99</text><text x="2089.9" y="1034" class="k">0.75</text><text x="2131.2" y="1034">0.92</text><text x="2172.5" y="1034">0.83</text><text x="2213.8" y="1034">0.87</text><text x="2255.1" y="1034">0.82</text><text x="2296.4" y="1034">0.86</text></g>
<g class="w"><text x="1924.7" y="1075">1.00</text><text x="1966" y="1075">0.99</text><text x="2007.3" y="1075">1.00</text><text x="2048.6" y="1075">1.00</text><text x="2089.9" y="1075" class="k">0.75</text><text x="2131.2" y="1075">0.89</text><text x="2172.5" y="1075">0.78</text><text x="2213.8" y="1075">0.80</text><text x="2255.1" y="1075" class="k">0.76</text><text x="2296.4" y="1075">0.79</text></g>
<g class="w"><text x="1924.7" y="1116">1.00</text><text x="1966" y="1116">0.99</text><text x="2007.3" y="1116">1.00</text><text x="2048.6" y="1116">1.00</text><text x="2089.9" y="1116" class="k">0.74</text><text x="2131.2" y="1116">0.88</text><text x="2172.5" y="1116" class="k">0.76</text><text x="2213.8" y="1116">0.79</text><text x="2255.1" y="1116" class="k">0.75</text><text x="2296.4" y="1116">0.78</text></g>
<g class="k"><text x="1924.7" y="1157">0.74</text><text x="1966" y="1157">0.75</text><text x="2007.3" y="1157">0.75</text><text x="2048.6" y="1157">0.74</text><text x="2089.9" y="1157" class="w">1.00</text><text x="2131.2" y="1157">0.52</text><text x="2172.5" y="1157">0.56</text><text x="2213.8" y="1157">0.61</text><text x="2255.1" y="1157">0.55</text><text x="2296.4" y="1157">0.58</text></g>
<g class="w"><text x="1924.7" y="1198">0.90</text><text x="1966" y="1198">0.92</text><text x="2007.3" y="1198">0.89</text><text x="2048.6" y="1198">0.88</text><text x="2089.9" y="1198" class="k">0.52</text><text x="2131.2" y="1198">1.00</text><text x="2172.5" y="1198">0.94</text><text x="2213.8" y="1198">0.94</text><text x="2255.1" y="1198">0.94</text><text x="2296.4" y="1198">0.95</text></g>
<g class="w"><text x="1924.7" y="1239">0.80</text><text x="1966" y="1239">0.83</text><text x="2007.3" y="1239">0.78</text><text x="2048.6" y="1239" class="k">0.76</text><text x="2089.9" y="1239" class="k">0.56</text><text x="2131.2" y="1239">0.94</text><text x="2172.5" y="1239">1.00</text><text x="2213.8" y="1239">0.99</text><text x="2255.1" y="1239">1.00</text><text x="2296.4" y="1239">0.99</text></g>
<g class="w"><text x="1924.7" y="1280">0.83</text><text x="1966" y="1280">0.87</text><text x="2007.3" y="1280">0.80</text><text x="2048.6" y="1280">0.79</text><text x="2089.9" y="1280" class="k">0.61</text><text x="2131.2" y="1280">0.94</text><text x="2172.5" y="1280">0.99</text><text x="2213.8" y="1280">1.00</text><text x="2255.1" y="1280">0.98</text><text x="2296.4" y="1280">1.00</text></g>
<g class="w"><text x="1924.7" y="1321">0.79</text><text x="1966" y="1321">0.82</text><text x="2007.3" y="1321" class="k">0.76</text><text x="2048.6" y="1321" class="k">0.75</text><text x="2089.9" y="1321" class="k">0.55</text><text x="2131.2" y="1321">0.94</text><text x="2172.5" y="1321">1.00</text><text x="2213.8" y="1321">0.98</text><text x="2255.1" y="1321">1.00</text><text x="2296.4" y="1321">0.98</text></g>
<g class="w"><text x="1924.7" y="1362">0.82</text><text x="1966" y="1362">0.86</text><text x="2007.3" y="1362">0.79</text><text x="2048.6" y="1362">0.78</text><text x="2089.9" y="1362" class="k">0.58</text><text x="2131.2" y="1362">0.95</text><text x="2172.5" y="1362">0.99</text><text x="2213.8" y="1362">1.00</text><text x="2255.1" y="1362">0.99</text><text x="2296.4" y="1362">1.00</text></g>
</g>
<!-- colorbar -->
<rect x="2344" y="967" width="21" height="413" fill="url(#cb)" stroke="#888" stroke-width="0.7"/>
<g stroke="#333" stroke-width="0.8"><path d="M2365,967h4M2365,1054h4M2365,1139h4M2365,1225h4M2365,1311h4"/></g>
<g font-size="9" fill="#333" font-family="DejaVu Sans, sans-serif">
<text x="2371" y="970">1.0</text><text x="2371" y="1057">0.9</text><text x="2371" y="1142">0.8</text><text x="2371" y="1228">0.7</text><text x="2371" y="1314">0.6</text>
</g>
<text x="2391" y="1174" font-size="14" fill="#333" font-family="DejaVu Sans, sans-serif" text-anchor="middle" transform="rotate(90 2391 1174)">Similarity</text>
<text x="1758" y="1407" class="cap" textLength="687" lengthAdjust="spacingAndGlyphs">The cosine similarity matrix among the attribute representations obtained by the discriminator assignments of MCL-GAN</text>
<text x="1758" y="1422" class="cap" textLength="128" lengthAdjust="spacingAndGlyphs">on the CelebA dataset.</text>

<!-- References -->
<text x="1732" y="1463" font-size="19" fill="#111" textLength="100" lengthAdjust="spacingAndGlyphs">References</text>
<text x="1734" y="1487" class="ref" textLength="584" lengthAdjust="spacingAndGlyphs">Guzman-Rivera, A. et al.: Multiple Choice Learning: Learning to Produce Multiple Structured Outputs.</text><text x="2325" y="1487" class="ven" textLength="106" lengthAdjust="spacingAndGlyphs">In NeurIPS. (2012)</text>
<text x="1734" y="1513" class="ref" textLength="288" lengthAdjust="spacingAndGlyphs">Lee, K. et al.: Confident Multiple Choice Learning.</text><text x="2025" y="1513" class="ven" textLength="88" lengthAdjust="spacingAndGlyphs">In ICML. (2017)</text>
<text x="1734" y="1538" class="ref" textLength="331" lengthAdjust="spacingAndGlyphs">Durugkar, I. et al.: Generative Multi-Adversarial Networks.</text><text x="2069" y="1538" class="ven" textLength="86" lengthAdjust="spacingAndGlyphs">In ICLR. (2017)</text>
<text x="1734" y="1563" class="ref" textLength="231" lengthAdjust="spacingAndGlyphs">Lim, J.H. and Ye, J.C.: Geometric GAN.</text><text x="1968" y="1563" class="ven" textLength="223" lengthAdjust="spacingAndGlyphs">arXiv preprint arXiv:1705.02894 (2017)</text>
<text x="1734" y="1588" class="ref" textLength="670" lengthAdjust="spacingAndGlyphs">Radford, A. et al.: Unsupervised Representation Learning with Deep Convolutional Generative Adversarial Networks.</text><text x="2409" y="1588" class="ven" textLength="45" lengthAdjust="spacingAndGlyphs">In ICLR.</text>
<text x="1734" y="1605" class="ven" textLength="36" lengthAdjust="spacingAndGlyphs">(2016)</text>
<text x="1734" y="1633" class="ref" textLength="601" lengthAdjust="spacingAndGlyphs">Zhang, H. et al.: StackGAN++: Realistic Image Synthesis with Stacked Generative Adversarial Networks.</text><text x="2341" y="1633" class="ven" textLength="78" lengthAdjust="spacingAndGlyphs">TPAMI (2018)</text>
</svg>
</body></html>
